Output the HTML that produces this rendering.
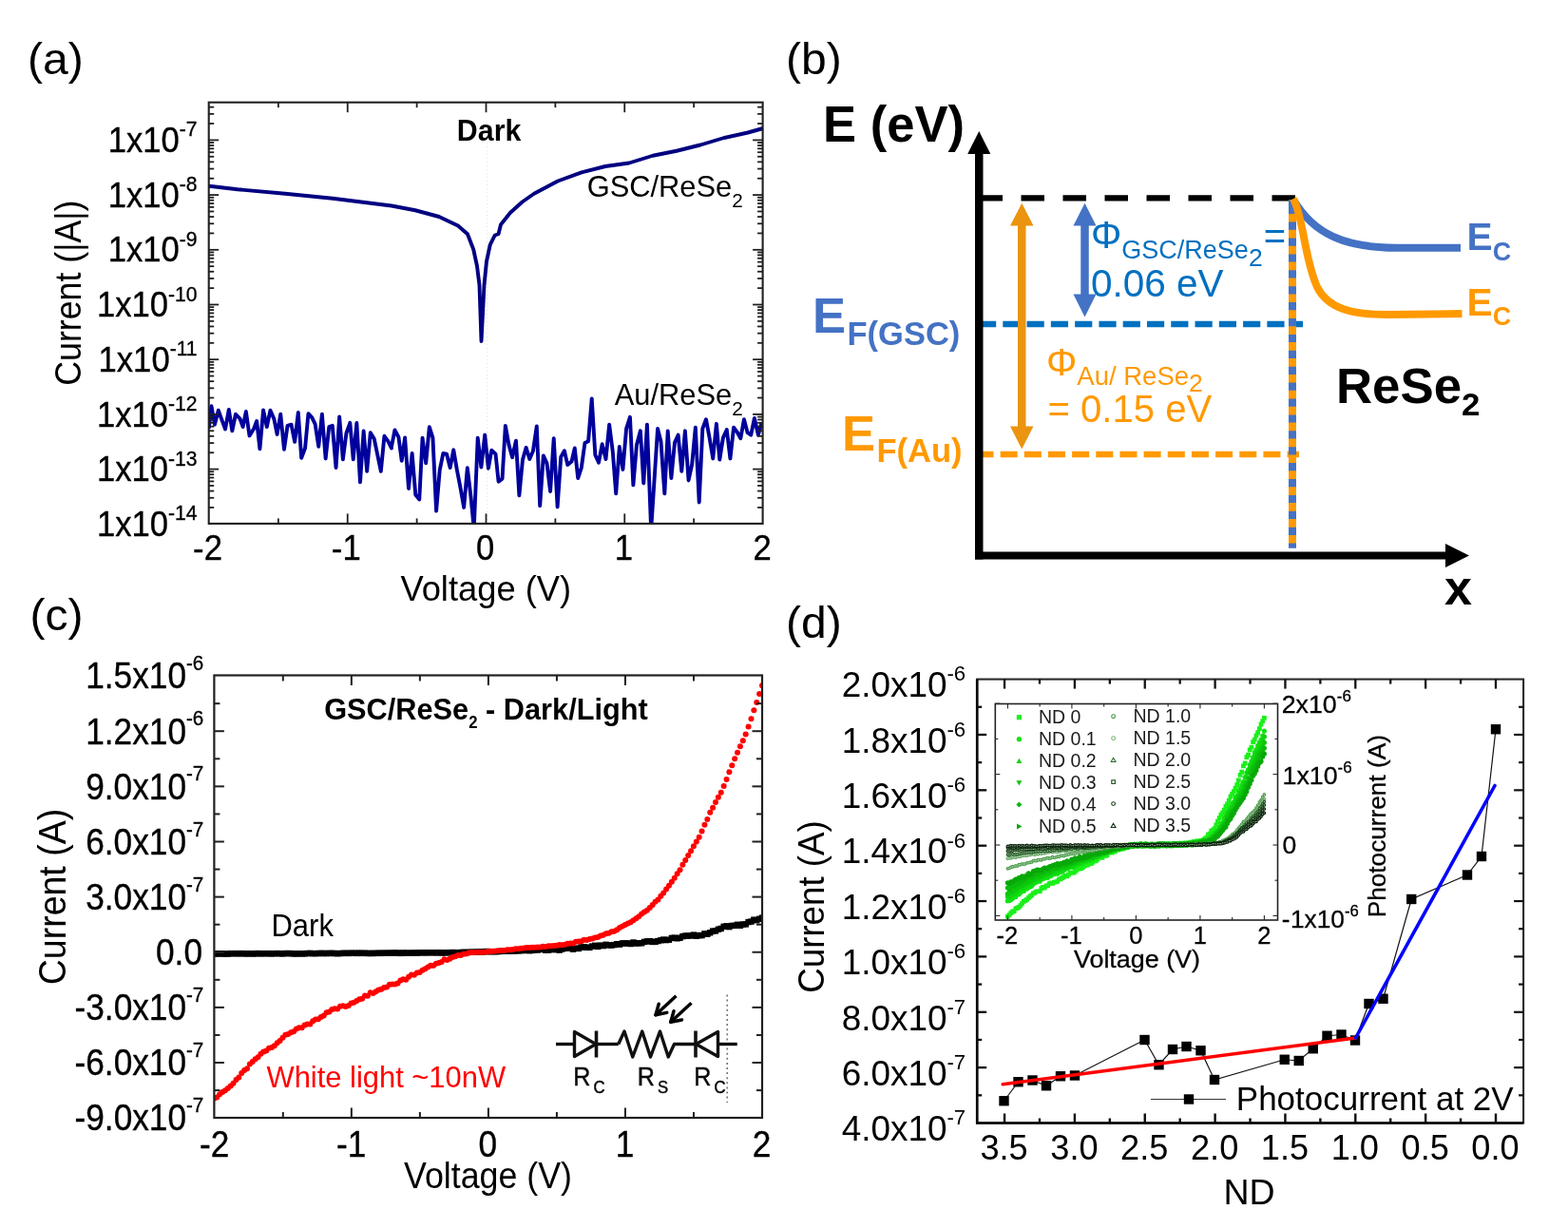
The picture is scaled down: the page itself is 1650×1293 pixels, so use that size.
<!DOCTYPE html>
<html lang="en"><head><meta charset="utf-8"><title>GSC/ReSe2 photodetector figure</title>
<style>html,body{margin:0;padding:0;background:#fff;}body{width:1650px;height:1293px;}svg{display:block;}text{font-family:"Liberation Sans",sans-serif;}</style>
</head><body>
<svg width="1650" height="1293" viewBox="0 0 1650 1293" role="img" aria-label="Four-panel figure: dark I-V curves, band diagram, dark/light I-V, photocurrent versus ND">
<rect x="0" y="0" width="1650" height="1293" fill="#ffffff"/>
<text transform="translate(29 77.5) scale(1.045 1)" font-size="46" text-anchor="start" fill="#000" font-weight="normal" >(a)</text>
<text transform="translate(827 77.5) scale(1.045 1)" font-size="46" text-anchor="start" fill="#000" font-weight="normal" >(b)</text>
<text transform="translate(31.5 663) scale(1.045 1)" font-size="46" text-anchor="start" fill="#000" font-weight="normal" >(c)</text>
<text transform="translate(827 671) scale(1.045 1)" font-size="46" text-anchor="start" fill="#000" font-weight="normal" >(d)</text>
<g id="panel-a">
<line x1="512.8" y1="150" x2="512.8" y2="550.9" stroke="#e2e2e2" stroke-width="1" stroke-dasharray="1 3"/>
<polyline points="220,195.75 250,199.25 300,203.75 350,208.75 400,215 412,216.5 437,221.25 462,228 482,237.5 492,246.25 498.25,262.5 502,280 504.5,300 506.5,359 509.5,300 512,275 515.75,257.5 520.75,247.5 524.5,246.25 527,236.25 537,223.75 549.5,212.5 562,203.75 587,190.5 612,181.3 637,175 662,171.5 687,163.75 712,158.75 737,152.5 762,145 787,139.5 803,135" stroke="#000080" stroke-width="3.9" fill="none" stroke-linejoin="round" stroke-linecap="butt"/>
<clipPath id="clipA"><rect x="219.7" y="107.7" width="582.9" height="443.2"/></clipPath>
<g clip-path="url(#clipA)">
<polyline points="219.7,450.91 222.52,427.27 225.91,446.67 229.79,431.76 233.18,441.21 237.06,451.52 240.82,430.91 244.33,453.33 247.97,435.76 252.58,440.61 255.61,449.09 258.88,432.97 262.52,458.42 267.12,450.91 270.15,443.03 273.42,472.36 277.06,431.52 280.82,449.09 284.45,431.76 288.33,440.61 291.61,456.97 295.24,435.76 299,472.73 302.52,447.88 306.52,446.67 310.15,464.85 313.79,433.94 317.18,481.82 321.06,471.52 324.45,435.15 328.33,439.39 331.61,446.06 335.24,469.7 338.88,435.76 342.64,482.42 346.27,449.09 349.79,447.88 353.55,492.12 357.18,438.55 360.82,483.39 364.45,455.76 368.33,444.85 371.73,483.39 375.36,444.85 379,507.27 382.64,453.33 386.15,495.76 389.79,455.15 393.79,461.82 400.82,495.76 404.45,458.79 408.33,464.24 411.97,471.52 411.82,470.91 415.45,452.36 419.45,460 422.73,484.85 426.12,460.36 430,513.94 433.64,476.97 437.27,520.61 441.27,525.45 444.55,460.61 448.18,487.27 451.82,449.09 455.45,460.61 459.09,537.58 462.73,494.55 466.36,476.97 470,477.58 473.64,492.12 477.27,473.33 480.91,494.55 484.55,513.33 488.18,533.94 491.82,492.12 495.45,522.42 498.73,556.36 502.73,460.61 506.36,491.52 510.24,457.58 513.88,492.73 517.27,473.7 521.52,477.58 524.55,506.67 528.55,503.64 531.82,447.88 535.45,467.88 539.09,481.21 542.97,463.64 546.36,521.21 550,483.64 553.64,470.91 557.27,483.03 560.91,474.55 564.79,448.48 568.18,532.12 571.82,479.39 575.45,487.27 579.09,516.97 582.73,461.21 586.61,533.33 590.24,480.61 593.88,474.18 597.27,489.09 601.52,485.45 604.79,471.52 608.18,503.03 611.82,492.12 615.45,466.06 619.09,464.24 622.73,419.39 626.36,478.79 630,486.67 633.64,467.27 637.52,483.03 641.15,446.67 644.79,475.15 648.18,519.39 651.82,470.06 655.45,493.94 659.09,450.91 662.97,438.79 666.36,510.3 670,467.88 673.88,453.33 677.27,508.48 680.91,446.67 685.15,557.58 692.06,450.91 695.45,464.24 699.33,519.39 702.73,453.33 706.36,503.03 710,465.45 713.64,457.58 717.27,495.76 720.91,453.33 724.55,505.45 728.18,488.48 731.82,449.7 735.7,528.48 739.33,450.91 742.97,441.21 746.61,460.61 750.24,482.42 753.88,445.82 757.27,483.64 760.91,460.61 764.79,452.12 768.42,482.42 772.06,449.7 775.7,454.55 779.33,461.21 782.97,441.21 786.61,455.15 790.24,457.58 793.88,440 797.88,457.58 801.52,444.85" stroke="#00009c" stroke-width="3.9" fill="none" stroke-linejoin="round"/>
</g>
<rect x="219.7" y="107.7" width="582.9" height="443.2" fill="none" stroke="#202020" stroke-width="2.1"/>
<line x1="219.7" y1="533.93" x2="225.2" y2="533.93" stroke="#202020" stroke-width="1.8" />
<line x1="802.6" y1="533.93" x2="797.1" y2="533.93" stroke="#202020" stroke-width="1.8" />
<line x1="219.7" y1="523.77" x2="225.2" y2="523.77" stroke="#202020" stroke-width="1.8" />
<line x1="802.6" y1="523.77" x2="797.1" y2="523.77" stroke="#202020" stroke-width="1.8" />
<line x1="219.7" y1="516.56" x2="225.2" y2="516.56" stroke="#202020" stroke-width="1.8" />
<line x1="802.6" y1="516.56" x2="797.1" y2="516.56" stroke="#202020" stroke-width="1.8" />
<line x1="219.7" y1="510.97" x2="225.2" y2="510.97" stroke="#202020" stroke-width="1.8" />
<line x1="802.6" y1="510.97" x2="797.1" y2="510.97" stroke="#202020" stroke-width="1.8" />
<line x1="219.7" y1="506.4" x2="225.2" y2="506.4" stroke="#202020" stroke-width="1.8" />
<line x1="802.6" y1="506.4" x2="797.1" y2="506.4" stroke="#202020" stroke-width="1.8" />
<line x1="219.7" y1="502.54" x2="225.2" y2="502.54" stroke="#202020" stroke-width="1.8" />
<line x1="802.6" y1="502.54" x2="797.1" y2="502.54" stroke="#202020" stroke-width="1.8" />
<line x1="219.7" y1="499.19" x2="225.2" y2="499.19" stroke="#202020" stroke-width="1.8" />
<line x1="802.6" y1="499.19" x2="797.1" y2="499.19" stroke="#202020" stroke-width="1.8" />
<line x1="219.7" y1="496.24" x2="225.2" y2="496.24" stroke="#202020" stroke-width="1.8" />
<line x1="802.6" y1="496.24" x2="797.1" y2="496.24" stroke="#202020" stroke-width="1.8" />
<line x1="219.7" y1="493.6" x2="230.2" y2="493.6" stroke="#202020" stroke-width="1.8" />
<line x1="802.6" y1="493.6" x2="792.1" y2="493.6" stroke="#202020" stroke-width="1.8" />
<line x1="219.7" y1="476.23" x2="225.2" y2="476.23" stroke="#202020" stroke-width="1.8" />
<line x1="802.6" y1="476.23" x2="797.1" y2="476.23" stroke="#202020" stroke-width="1.8" />
<line x1="219.7" y1="466.07" x2="225.2" y2="466.07" stroke="#202020" stroke-width="1.8" />
<line x1="802.6" y1="466.07" x2="797.1" y2="466.07" stroke="#202020" stroke-width="1.8" />
<line x1="219.7" y1="458.86" x2="225.2" y2="458.86" stroke="#202020" stroke-width="1.8" />
<line x1="802.6" y1="458.86" x2="797.1" y2="458.86" stroke="#202020" stroke-width="1.8" />
<line x1="219.7" y1="453.27" x2="225.2" y2="453.27" stroke="#202020" stroke-width="1.8" />
<line x1="802.6" y1="453.27" x2="797.1" y2="453.27" stroke="#202020" stroke-width="1.8" />
<line x1="219.7" y1="448.7" x2="225.2" y2="448.7" stroke="#202020" stroke-width="1.8" />
<line x1="802.6" y1="448.7" x2="797.1" y2="448.7" stroke="#202020" stroke-width="1.8" />
<line x1="219.7" y1="444.84" x2="225.2" y2="444.84" stroke="#202020" stroke-width="1.8" />
<line x1="802.6" y1="444.84" x2="797.1" y2="444.84" stroke="#202020" stroke-width="1.8" />
<line x1="219.7" y1="441.49" x2="225.2" y2="441.49" stroke="#202020" stroke-width="1.8" />
<line x1="802.6" y1="441.49" x2="797.1" y2="441.49" stroke="#202020" stroke-width="1.8" />
<line x1="219.7" y1="438.54" x2="225.2" y2="438.54" stroke="#202020" stroke-width="1.8" />
<line x1="802.6" y1="438.54" x2="797.1" y2="438.54" stroke="#202020" stroke-width="1.8" />
<line x1="219.7" y1="435.9" x2="230.2" y2="435.9" stroke="#202020" stroke-width="1.8" />
<line x1="802.6" y1="435.9" x2="792.1" y2="435.9" stroke="#202020" stroke-width="1.8" />
<line x1="219.7" y1="418.53" x2="225.2" y2="418.53" stroke="#202020" stroke-width="1.8" />
<line x1="802.6" y1="418.53" x2="797.1" y2="418.53" stroke="#202020" stroke-width="1.8" />
<line x1="219.7" y1="408.37" x2="225.2" y2="408.37" stroke="#202020" stroke-width="1.8" />
<line x1="802.6" y1="408.37" x2="797.1" y2="408.37" stroke="#202020" stroke-width="1.8" />
<line x1="219.7" y1="401.16" x2="225.2" y2="401.16" stroke="#202020" stroke-width="1.8" />
<line x1="802.6" y1="401.16" x2="797.1" y2="401.16" stroke="#202020" stroke-width="1.8" />
<line x1="219.7" y1="395.57" x2="225.2" y2="395.57" stroke="#202020" stroke-width="1.8" />
<line x1="802.6" y1="395.57" x2="797.1" y2="395.57" stroke="#202020" stroke-width="1.8" />
<line x1="219.7" y1="391" x2="225.2" y2="391" stroke="#202020" stroke-width="1.8" />
<line x1="802.6" y1="391" x2="797.1" y2="391" stroke="#202020" stroke-width="1.8" />
<line x1="219.7" y1="387.14" x2="225.2" y2="387.14" stroke="#202020" stroke-width="1.8" />
<line x1="802.6" y1="387.14" x2="797.1" y2="387.14" stroke="#202020" stroke-width="1.8" />
<line x1="219.7" y1="383.79" x2="225.2" y2="383.79" stroke="#202020" stroke-width="1.8" />
<line x1="802.6" y1="383.79" x2="797.1" y2="383.79" stroke="#202020" stroke-width="1.8" />
<line x1="219.7" y1="380.84" x2="225.2" y2="380.84" stroke="#202020" stroke-width="1.8" />
<line x1="802.6" y1="380.84" x2="797.1" y2="380.84" stroke="#202020" stroke-width="1.8" />
<line x1="219.7" y1="378.2" x2="230.2" y2="378.2" stroke="#202020" stroke-width="1.8" />
<line x1="802.6" y1="378.2" x2="792.1" y2="378.2" stroke="#202020" stroke-width="1.8" />
<line x1="219.7" y1="360.83" x2="225.2" y2="360.83" stroke="#202020" stroke-width="1.8" />
<line x1="802.6" y1="360.83" x2="797.1" y2="360.83" stroke="#202020" stroke-width="1.8" />
<line x1="219.7" y1="350.67" x2="225.2" y2="350.67" stroke="#202020" stroke-width="1.8" />
<line x1="802.6" y1="350.67" x2="797.1" y2="350.67" stroke="#202020" stroke-width="1.8" />
<line x1="219.7" y1="343.46" x2="225.2" y2="343.46" stroke="#202020" stroke-width="1.8" />
<line x1="802.6" y1="343.46" x2="797.1" y2="343.46" stroke="#202020" stroke-width="1.8" />
<line x1="219.7" y1="337.87" x2="225.2" y2="337.87" stroke="#202020" stroke-width="1.8" />
<line x1="802.6" y1="337.87" x2="797.1" y2="337.87" stroke="#202020" stroke-width="1.8" />
<line x1="219.7" y1="333.3" x2="225.2" y2="333.3" stroke="#202020" stroke-width="1.8" />
<line x1="802.6" y1="333.3" x2="797.1" y2="333.3" stroke="#202020" stroke-width="1.8" />
<line x1="219.7" y1="329.44" x2="225.2" y2="329.44" stroke="#202020" stroke-width="1.8" />
<line x1="802.6" y1="329.44" x2="797.1" y2="329.44" stroke="#202020" stroke-width="1.8" />
<line x1="219.7" y1="326.09" x2="225.2" y2="326.09" stroke="#202020" stroke-width="1.8" />
<line x1="802.6" y1="326.09" x2="797.1" y2="326.09" stroke="#202020" stroke-width="1.8" />
<line x1="219.7" y1="323.14" x2="225.2" y2="323.14" stroke="#202020" stroke-width="1.8" />
<line x1="802.6" y1="323.14" x2="797.1" y2="323.14" stroke="#202020" stroke-width="1.8" />
<line x1="219.7" y1="320.5" x2="230.2" y2="320.5" stroke="#202020" stroke-width="1.8" />
<line x1="802.6" y1="320.5" x2="792.1" y2="320.5" stroke="#202020" stroke-width="1.8" />
<line x1="219.7" y1="303.13" x2="225.2" y2="303.13" stroke="#202020" stroke-width="1.8" />
<line x1="802.6" y1="303.13" x2="797.1" y2="303.13" stroke="#202020" stroke-width="1.8" />
<line x1="219.7" y1="292.97" x2="225.2" y2="292.97" stroke="#202020" stroke-width="1.8" />
<line x1="802.6" y1="292.97" x2="797.1" y2="292.97" stroke="#202020" stroke-width="1.8" />
<line x1="219.7" y1="285.76" x2="225.2" y2="285.76" stroke="#202020" stroke-width="1.8" />
<line x1="802.6" y1="285.76" x2="797.1" y2="285.76" stroke="#202020" stroke-width="1.8" />
<line x1="219.7" y1="280.17" x2="225.2" y2="280.17" stroke="#202020" stroke-width="1.8" />
<line x1="802.6" y1="280.17" x2="797.1" y2="280.17" stroke="#202020" stroke-width="1.8" />
<line x1="219.7" y1="275.6" x2="225.2" y2="275.6" stroke="#202020" stroke-width="1.8" />
<line x1="802.6" y1="275.6" x2="797.1" y2="275.6" stroke="#202020" stroke-width="1.8" />
<line x1="219.7" y1="271.74" x2="225.2" y2="271.74" stroke="#202020" stroke-width="1.8" />
<line x1="802.6" y1="271.74" x2="797.1" y2="271.74" stroke="#202020" stroke-width="1.8" />
<line x1="219.7" y1="268.39" x2="225.2" y2="268.39" stroke="#202020" stroke-width="1.8" />
<line x1="802.6" y1="268.39" x2="797.1" y2="268.39" stroke="#202020" stroke-width="1.8" />
<line x1="219.7" y1="265.44" x2="225.2" y2="265.44" stroke="#202020" stroke-width="1.8" />
<line x1="802.6" y1="265.44" x2="797.1" y2="265.44" stroke="#202020" stroke-width="1.8" />
<line x1="219.7" y1="262.8" x2="230.2" y2="262.8" stroke="#202020" stroke-width="1.8" />
<line x1="802.6" y1="262.8" x2="792.1" y2="262.8" stroke="#202020" stroke-width="1.8" />
<line x1="219.7" y1="245.43" x2="225.2" y2="245.43" stroke="#202020" stroke-width="1.8" />
<line x1="802.6" y1="245.43" x2="797.1" y2="245.43" stroke="#202020" stroke-width="1.8" />
<line x1="219.7" y1="235.27" x2="225.2" y2="235.27" stroke="#202020" stroke-width="1.8" />
<line x1="802.6" y1="235.27" x2="797.1" y2="235.27" stroke="#202020" stroke-width="1.8" />
<line x1="219.7" y1="228.06" x2="225.2" y2="228.06" stroke="#202020" stroke-width="1.8" />
<line x1="802.6" y1="228.06" x2="797.1" y2="228.06" stroke="#202020" stroke-width="1.8" />
<line x1="219.7" y1="222.47" x2="225.2" y2="222.47" stroke="#202020" stroke-width="1.8" />
<line x1="802.6" y1="222.47" x2="797.1" y2="222.47" stroke="#202020" stroke-width="1.8" />
<line x1="219.7" y1="217.9" x2="225.2" y2="217.9" stroke="#202020" stroke-width="1.8" />
<line x1="802.6" y1="217.9" x2="797.1" y2="217.9" stroke="#202020" stroke-width="1.8" />
<line x1="219.7" y1="214.04" x2="225.2" y2="214.04" stroke="#202020" stroke-width="1.8" />
<line x1="802.6" y1="214.04" x2="797.1" y2="214.04" stroke="#202020" stroke-width="1.8" />
<line x1="219.7" y1="210.69" x2="225.2" y2="210.69" stroke="#202020" stroke-width="1.8" />
<line x1="802.6" y1="210.69" x2="797.1" y2="210.69" stroke="#202020" stroke-width="1.8" />
<line x1="219.7" y1="207.74" x2="225.2" y2="207.74" stroke="#202020" stroke-width="1.8" />
<line x1="802.6" y1="207.74" x2="797.1" y2="207.74" stroke="#202020" stroke-width="1.8" />
<line x1="219.7" y1="205.1" x2="230.2" y2="205.1" stroke="#202020" stroke-width="1.8" />
<line x1="802.6" y1="205.1" x2="792.1" y2="205.1" stroke="#202020" stroke-width="1.8" />
<line x1="219.7" y1="187.73" x2="225.2" y2="187.73" stroke="#202020" stroke-width="1.8" />
<line x1="802.6" y1="187.73" x2="797.1" y2="187.73" stroke="#202020" stroke-width="1.8" />
<line x1="219.7" y1="177.57" x2="225.2" y2="177.57" stroke="#202020" stroke-width="1.8" />
<line x1="802.6" y1="177.57" x2="797.1" y2="177.57" stroke="#202020" stroke-width="1.8" />
<line x1="219.7" y1="170.36" x2="225.2" y2="170.36" stroke="#202020" stroke-width="1.8" />
<line x1="802.6" y1="170.36" x2="797.1" y2="170.36" stroke="#202020" stroke-width="1.8" />
<line x1="219.7" y1="164.77" x2="225.2" y2="164.77" stroke="#202020" stroke-width="1.8" />
<line x1="802.6" y1="164.77" x2="797.1" y2="164.77" stroke="#202020" stroke-width="1.8" />
<line x1="219.7" y1="160.2" x2="225.2" y2="160.2" stroke="#202020" stroke-width="1.8" />
<line x1="802.6" y1="160.2" x2="797.1" y2="160.2" stroke="#202020" stroke-width="1.8" />
<line x1="219.7" y1="156.34" x2="225.2" y2="156.34" stroke="#202020" stroke-width="1.8" />
<line x1="802.6" y1="156.34" x2="797.1" y2="156.34" stroke="#202020" stroke-width="1.8" />
<line x1="219.7" y1="152.99" x2="225.2" y2="152.99" stroke="#202020" stroke-width="1.8" />
<line x1="802.6" y1="152.99" x2="797.1" y2="152.99" stroke="#202020" stroke-width="1.8" />
<line x1="219.7" y1="150.04" x2="225.2" y2="150.04" stroke="#202020" stroke-width="1.8" />
<line x1="802.6" y1="150.04" x2="797.1" y2="150.04" stroke="#202020" stroke-width="1.8" />
<line x1="219.7" y1="147.4" x2="230.2" y2="147.4" stroke="#202020" stroke-width="1.8" />
<line x1="802.6" y1="147.4" x2="792.1" y2="147.4" stroke="#202020" stroke-width="1.8" />
<line x1="219.7" y1="130.03" x2="225.2" y2="130.03" stroke="#202020" stroke-width="1.8" />
<line x1="802.6" y1="130.03" x2="797.1" y2="130.03" stroke="#202020" stroke-width="1.8" />
<line x1="219.7" y1="119.87" x2="225.2" y2="119.87" stroke="#202020" stroke-width="1.8" />
<line x1="802.6" y1="119.87" x2="797.1" y2="119.87" stroke="#202020" stroke-width="1.8" />
<line x1="219.7" y1="112.66" x2="225.2" y2="112.66" stroke="#202020" stroke-width="1.8" />
<line x1="802.6" y1="112.66" x2="797.1" y2="112.66" stroke="#202020" stroke-width="1.8" />
<line x1="292.88" y1="550.9" x2="292.88" y2="545.4" stroke="#202020" stroke-width="1.8" />
<line x1="292.88" y1="107.7" x2="292.88" y2="113.2" stroke="#202020" stroke-width="1.8" />
<line x1="365.75" y1="550.9" x2="365.75" y2="540.4" stroke="#202020" stroke-width="1.8" />
<line x1="365.75" y1="107.7" x2="365.75" y2="118.2" stroke="#202020" stroke-width="1.8" />
<line x1="438.62" y1="550.9" x2="438.62" y2="545.4" stroke="#202020" stroke-width="1.8" />
<line x1="438.62" y1="107.7" x2="438.62" y2="113.2" stroke="#202020" stroke-width="1.8" />
<line x1="511.5" y1="550.9" x2="511.5" y2="540.4" stroke="#202020" stroke-width="1.8" />
<line x1="511.5" y1="107.7" x2="511.5" y2="118.2" stroke="#202020" stroke-width="1.8" />
<line x1="584.38" y1="550.9" x2="584.38" y2="545.4" stroke="#202020" stroke-width="1.8" />
<line x1="584.38" y1="107.7" x2="584.38" y2="113.2" stroke="#202020" stroke-width="1.8" />
<line x1="657.25" y1="550.9" x2="657.25" y2="540.4" stroke="#202020" stroke-width="1.8" />
<line x1="657.25" y1="107.7" x2="657.25" y2="118.2" stroke="#202020" stroke-width="1.8" />
<line x1="730.12" y1="550.9" x2="730.12" y2="545.4" stroke="#202020" stroke-width="1.8" />
<line x1="730.12" y1="107.7" x2="730.12" y2="113.2" stroke="#202020" stroke-width="1.8" />
<text transform="translate(207.6 563.9) scale(0.96 1)" font-size="36.1" text-anchor="end" fill="#000" font-weight="normal" stroke="#000" stroke-width="0.35">1x10<tspan font-size="22" dy="-16.6">-14</tspan></text>
<text transform="translate(207.6 506.2) scale(0.96 1)" font-size="36.1" text-anchor="end" fill="#000" font-weight="normal" stroke="#000" stroke-width="0.35">1x10<tspan font-size="22" dy="-16.6">-13</tspan></text>
<text transform="translate(207.6 448.5) scale(0.96 1)" font-size="36.1" text-anchor="end" fill="#000" font-weight="normal" stroke="#000" stroke-width="0.35">1x10<tspan font-size="22" dy="-16.6">-12</tspan></text>
<text transform="translate(207.6 390.8) scale(0.96 1)" font-size="36.1" text-anchor="end" fill="#000" font-weight="normal" stroke="#000" stroke-width="0.35">1x10<tspan font-size="22" dy="-16.6">-11</tspan></text>
<text transform="translate(207.6 333.1) scale(0.96 1)" font-size="36.1" text-anchor="end" fill="#000" font-weight="normal" stroke="#000" stroke-width="0.35">1x10<tspan font-size="22" dy="-16.6">-10</tspan></text>
<text transform="translate(207.6 275.4) scale(0.96 1)" font-size="36.1" text-anchor="end" fill="#000" font-weight="normal" stroke="#000" stroke-width="0.35">1x10<tspan font-size="22" dy="-16.6">-9</tspan></text>
<text transform="translate(207.6 217.7) scale(0.96 1)" font-size="36.1" text-anchor="end" fill="#000" font-weight="normal" stroke="#000" stroke-width="0.35">1x10<tspan font-size="22" dy="-16.6">-8</tspan></text>
<text transform="translate(207.6 160) scale(0.96 1)" font-size="36.1" text-anchor="end" fill="#000" font-weight="normal" stroke="#000" stroke-width="0.35">1x10<tspan font-size="22" dy="-16.6">-7</tspan></text>
<text transform="translate(218.5 588.5) scale(0.96 1)" font-size="36.1" text-anchor="middle" fill="#000" font-weight="normal" stroke="#000" stroke-width="0.35">-2</text>
<text transform="translate(364.25 588.5) scale(0.96 1)" font-size="36.1" text-anchor="middle" fill="#000" font-weight="normal" stroke="#000" stroke-width="0.35">-1</text>
<text transform="translate(510.7 588.5) scale(0.96 1)" font-size="36.1" text-anchor="middle" fill="#000" font-weight="normal" stroke="#000" stroke-width="0.35">0</text>
<text transform="translate(656.45 588.5) scale(0.96 1)" font-size="36.1" text-anchor="middle" fill="#000" font-weight="normal" stroke="#000" stroke-width="0.35">1</text>
<text transform="translate(802.2 588.5) scale(0.96 1)" font-size="36.1" text-anchor="middle" fill="#000" font-weight="normal" stroke="#000" stroke-width="0.35">2</text>
<text transform="translate(511.3 631.5) scale(0.985 1)" font-size="36.9" text-anchor="middle" fill="#000" font-weight="normal" >Voltage (V)</text>
<text transform="translate(85 405.8) rotate(-90) scale(0.943 1)" font-size="37.9" text-anchor="start" fill="#000" font-weight="normal" >Current (|A|)</text>
<text transform="translate(514.6 148.1) scale(0.995 1)" font-size="30.5" text-anchor="middle" fill="#000" font-weight="bold" >Dark</text>
<text transform="translate(781.8 207.3) scale(1.012 1)" font-size="30.5" text-anchor="end" fill="#000" font-weight="normal" >GSC/ReSe<tspan font-size="20.5" dy="11">2</tspan></text>
<text transform="translate(781.8 425.8) scale(1.012 1)" font-size="30.5" text-anchor="end" fill="#000" font-weight="normal" >Au/ReSe<tspan font-size="20.5" dy="11">2</tspan></text>
</g>
<g id="panel-b">
<line x1="1030.5" y1="208.3" x2="1363.5" y2="208.3" stroke="#000" stroke-width="6.2" stroke-dasharray="24.5 19.5"/>
<line x1="1030" y1="341" x2="1371" y2="341" stroke="#0070c0" stroke-width="6.5" stroke-dasharray="18.2 7.08"/>
<line x1="1027.5" y1="478" x2="1367" y2="478" stroke="#ff9900" stroke-width="6.5" stroke-dasharray="18 7.16"/>
<line x1="1360" y1="210" x2="1360" y2="576.75" stroke="#4472c4" stroke-width="8" />
<line x1="1360" y1="224.9" x2="1360" y2="576.75" stroke="#ff9900" stroke-width="8" stroke-dasharray="8.7 8.2"/>
<path d="M1361,210 C1382,246 1415,260.8 1470,260.8 L1537,260.8" fill="none" stroke="#4472c4" stroke-width="8"/>
<path d="M1361,209 C1372,230 1372,270 1386,302 C1398,326 1425,331 1460,331 L1538.5,330" fill="none" stroke="#ff9900" stroke-width="8"/>
<line x1="1030.25" y1="160" x2="1030.25" y2="588.5" stroke="#000" stroke-width="8.5" />
<line x1="1026" y1="584.5" x2="1523" y2="584.5" stroke="#000" stroke-width="8" />
<polygon points="1030.25,138 1018.2,162 1042.3,162" fill="#000"/>
<polygon points="1546,584.5 1521,572 1521,597" fill="#000"/>
<line x1="1075.25" y1="236" x2="1075.25" y2="450" stroke="#ea9410" stroke-width="8.5" />
<polygon points="1075.25,213.7 1063,237.5 1087.5,237.5" fill="#ea9410"/>
<polygon points="1075.25,472.5 1063,448.5 1087.5,448.5" fill="#ea9410"/>
<line x1="1141.5" y1="236" x2="1141.5" y2="311" stroke="#4472c4" stroke-width="8.5" />
<polygon points="1141.5,213.7 1129.5,237.5 1153.5,237.5" fill="#4472c4"/>
<polygon points="1141.5,333.5 1129.5,309.5 1153.5,309.5" fill="#4472c4"/>
<text transform="translate(866 149.2) scale(0.977 1)" font-size="53.8" text-anchor="start" fill="#000" font-weight="bold" >E (eV)</text>
<text transform="translate(855 350)" font-size="52.5" text-anchor="start" fill="#4472c4" font-weight="bold" >E<tspan font-size="34.5" dy="13" dx="1.5">F(GSC)</tspan></text>
<text transform="translate(886 473.75)" font-size="52.5" text-anchor="start" fill="#ff9900" font-weight="bold" >E<tspan font-size="34.5" dy="12.5" dx="1.5">F(Au)</tspan></text>
<text transform="translate(1148 261)" font-size="40.5" text-anchor="start" fill="#0070c0" font-weight="normal" >&#934;<tspan font-size="27" dy="11">GSC/ReSe</tspan><tspan font-size="26.5" dy="7.5">2</tspan><tspan font-size="40" dy="-17.5" dx="1">=</tspan></text>
<text transform="translate(1148 312)" font-size="40.5" text-anchor="start" fill="#0070c0" font-weight="normal" >0.06 eV</text>
<text transform="translate(1101 394.5)" font-size="40.5" text-anchor="start" fill="#ff9900" font-weight="normal" >&#934;<tspan font-size="27.5" dy="10">Au/ ReSe</tspan><tspan font-size="26.5" dy="7">2</tspan></text>
<text transform="translate(1102.5 443.5) scale(0.99 1)" font-size="40.5" text-anchor="start" fill="#ff9900" font-weight="normal" >= 0.15 eV</text>
<text transform="translate(1543.5 263) scale(0.978 1)" font-size="41.5" text-anchor="start" fill="#4472c4" font-weight="bold" >E<tspan font-size="27.5" dy="10.5" dx="0.3">C</tspan></text>
<text transform="translate(1543.5 331.5) scale(0.978 1)" font-size="41.5" text-anchor="start" fill="#ff9900" font-weight="bold" >E<tspan font-size="27.5" dy="10.5" dx="0.3">C</tspan></text>
<text transform="translate(1406 424.25) scale(1.025 1)" font-size="51.5" text-anchor="start" fill="#000" font-weight="bold" >ReSe<tspan font-size="34" dy="12.5">2</tspan></text>
<text transform="translate(1520 635.5)" font-size="52" text-anchor="start" fill="#000" font-weight="bold" >x</text>
</g>
<g id="panel-c">
<clipPath id="clipC"><rect x="225.4" y="710.5" width="576.6" height="465.5"/></clipPath>
<g clip-path="url(#clipC)">
<g fill="#000">
<rect x="222.2" y="1000.23" width="6.4" height="6.4"/>
<rect x="225.08" y="1000.3" width="6.4" height="6.4"/>
<rect x="227.97" y="1000.08" width="6.4" height="6.4"/>
<rect x="230.85" y="1000.19" width="6.4" height="6.4"/>
<rect x="233.73" y="1000.37" width="6.4" height="6.4"/>
<rect x="236.62" y="1000.37" width="6.4" height="6.4"/>
<rect x="239.5" y="999.97" width="6.4" height="6.4"/>
<rect x="242.38" y="1000.01" width="6.4" height="6.4"/>
<rect x="245.26" y="999.92" width="6.4" height="6.4"/>
<rect x="248.15" y="1000.11" width="6.4" height="6.4"/>
<rect x="251.03" y="999.9" width="6.4" height="6.4"/>
<rect x="253.91" y="1000.1" width="6.4" height="6.4"/>
<rect x="256.8" y="1000.19" width="6.4" height="6.4"/>
<rect x="259.68" y="1000" width="6.4" height="6.4"/>
<rect x="262.56" y="1000.19" width="6.4" height="6.4"/>
<rect x="265.44" y="1000.14" width="6.4" height="6.4"/>
<rect x="268.33" y="999.85" width="6.4" height="6.4"/>
<rect x="271.21" y="1000.11" width="6.4" height="6.4"/>
<rect x="274.09" y="999.95" width="6.4" height="6.4"/>
<rect x="276.98" y="1000.02" width="6.4" height="6.4"/>
<rect x="279.86" y="999.94" width="6.4" height="6.4"/>
<rect x="282.74" y="1000.14" width="6.4" height="6.4"/>
<rect x="285.63" y="1000.01" width="6.4" height="6.4"/>
<rect x="288.51" y="999.85" width="6.4" height="6.4"/>
<rect x="291.39" y="1000.04" width="6.4" height="6.4"/>
<rect x="294.28" y="1000.15" width="6.4" height="6.4"/>
<rect x="297.16" y="999.9" width="6.4" height="6.4"/>
<rect x="300.04" y="999.85" width="6.4" height="6.4"/>
<rect x="302.92" y="999.92" width="6.4" height="6.4"/>
<rect x="305.81" y="1000.19" width="6.4" height="6.4"/>
<rect x="308.69" y="1000.2" width="6.4" height="6.4"/>
<rect x="311.57" y="1000.04" width="6.4" height="6.4"/>
<rect x="314.46" y="1000.14" width="6.4" height="6.4"/>
<rect x="317.34" y="1000.11" width="6.4" height="6.4"/>
<rect x="320.22" y="999.86" width="6.4" height="6.4"/>
<rect x="323.11" y="999.71" width="6.4" height="6.4"/>
<rect x="325.99" y="999.98" width="6.4" height="6.4"/>
<rect x="328.87" y="999.92" width="6.4" height="6.4"/>
<rect x="331.75" y="999.82" width="6.4" height="6.4"/>
<rect x="334.64" y="999.74" width="6.4" height="6.4"/>
<rect x="337.52" y="999.82" width="6.4" height="6.4"/>
<rect x="340.4" y="999.84" width="6.4" height="6.4"/>
<rect x="343.29" y="999.73" width="6.4" height="6.4"/>
<rect x="346.17" y="999.73" width="6.4" height="6.4"/>
<rect x="349.05" y="999.8" width="6.4" height="6.4"/>
<rect x="351.94" y="999.99" width="6.4" height="6.4"/>
<rect x="354.82" y="999.84" width="6.4" height="6.4"/>
<rect x="357.7" y="999.68" width="6.4" height="6.4"/>
<rect x="360.58" y="999.66" width="6.4" height="6.4"/>
<rect x="363.47" y="999.74" width="6.4" height="6.4"/>
<rect x="366.35" y="999.6" width="6.4" height="6.4"/>
<rect x="369.23" y="999.59" width="6.4" height="6.4"/>
<rect x="372.12" y="999.73" width="6.4" height="6.4"/>
<rect x="375" y="999.5" width="6.4" height="6.4"/>
<rect x="377.88" y="999.69" width="6.4" height="6.4"/>
<rect x="380.77" y="999.61" width="6.4" height="6.4"/>
<rect x="383.65" y="999.77" width="6.4" height="6.4"/>
<rect x="386.53" y="999.78" width="6.4" height="6.4"/>
<rect x="389.41" y="999.74" width="6.4" height="6.4"/>
<rect x="392.3" y="999.72" width="6.4" height="6.4"/>
<rect x="395.18" y="999.55" width="6.4" height="6.4"/>
<rect x="398.06" y="999.68" width="6.4" height="6.4"/>
<rect x="400.95" y="999.5" width="6.4" height="6.4"/>
<rect x="403.83" y="999.6" width="6.4" height="6.4"/>
<rect x="406.71" y="999.46" width="6.4" height="6.4"/>
<rect x="409.6" y="999.5" width="6.4" height="6.4"/>
<rect x="412.48" y="999.29" width="6.4" height="6.4"/>
<rect x="415.36" y="999.36" width="6.4" height="6.4"/>
<rect x="418.24" y="999.7" width="6.4" height="6.4"/>
<rect x="421.13" y="999.31" width="6.4" height="6.4"/>
<rect x="424.01" y="999.52" width="6.4" height="6.4"/>
<rect x="426.89" y="999.48" width="6.4" height="6.4"/>
<rect x="429.78" y="999.49" width="6.4" height="6.4"/>
<rect x="432.66" y="999.35" width="6.4" height="6.4"/>
<rect x="435.54" y="999.38" width="6.4" height="6.4"/>
<rect x="438.43" y="999.09" width="6.4" height="6.4"/>
<rect x="441.31" y="999.07" width="6.4" height="6.4"/>
<rect x="444.19" y="999.1" width="6.4" height="6.4"/>
<rect x="447.07" y="999.05" width="6.4" height="6.4"/>
<rect x="449.96" y="999" width="6.4" height="6.4"/>
<rect x="452.84" y="998.98" width="6.4" height="6.4"/>
<rect x="455.72" y="999.16" width="6.4" height="6.4"/>
<rect x="458.61" y="998.94" width="6.4" height="6.4"/>
<rect x="461.49" y="999.29" width="6.4" height="6.4"/>
<rect x="464.37" y="999.12" width="6.4" height="6.4"/>
<rect x="467.26" y="999.01" width="6.4" height="6.4"/>
<rect x="470.14" y="999.06" width="6.4" height="6.4"/>
<rect x="473.02" y="998.79" width="6.4" height="6.4"/>
<rect x="475.9" y="999.07" width="6.4" height="6.4"/>
<rect x="478.79" y="998.97" width="6.4" height="6.4"/>
<rect x="481.67" y="998.85" width="6.4" height="6.4"/>
<rect x="484.55" y="998.66" width="6.4" height="6.4"/>
<rect x="487.44" y="998.77" width="6.4" height="6.4"/>
<rect x="490.32" y="998.65" width="6.4" height="6.4"/>
<rect x="493.2" y="998.54" width="6.4" height="6.4"/>
<rect x="496.08" y="998.59" width="6.4" height="6.4"/>
<rect x="498.97" y="998.37" width="6.4" height="6.4"/>
<rect x="501.85" y="998.15" width="6.4" height="6.4"/>
<rect x="504.73" y="998.17" width="6.4" height="6.4"/>
<rect x="507.62" y="997.91" width="6.4" height="6.4"/>
<rect x="510.5" y="997.82" width="6.4" height="6.4"/>
<rect x="513.38" y="998.01" width="6.4" height="6.4"/>
<rect x="516.27" y="997.96" width="6.4" height="6.4"/>
<rect x="519.15" y="997.97" width="6.4" height="6.4"/>
<rect x="522.03" y="997.83" width="6.4" height="6.4"/>
<rect x="524.91" y="997.6" width="6.4" height="6.4"/>
<rect x="527.8" y="997.3" width="6.4" height="6.4"/>
<rect x="530.68" y="997.42" width="6.4" height="6.4"/>
<rect x="533.56" y="997.56" width="6.4" height="6.4"/>
<rect x="536.45" y="997.41" width="6.4" height="6.4"/>
<rect x="539.33" y="997.19" width="6.4" height="6.4"/>
<rect x="542.21" y="997.09" width="6.4" height="6.4"/>
<rect x="545.1" y="996.89" width="6.4" height="6.4"/>
<rect x="547.98" y="996.79" width="6.4" height="6.4"/>
<rect x="550.86" y="996.65" width="6.4" height="6.4"/>
<rect x="553.75" y="996.97" width="6.4" height="6.4"/>
<rect x="556.63" y="996.76" width="6.4" height="6.4"/>
<rect x="559.51" y="995.95" width="6.4" height="6.4"/>
<rect x="562.39" y="996.34" width="6.4" height="6.4"/>
<rect x="565.28" y="995.58" width="6.4" height="6.4"/>
<rect x="568.16" y="995.77" width="6.4" height="6.4"/>
<rect x="571.04" y="996.6" width="6.4" height="6.4"/>
<rect x="573.93" y="996.34" width="6.4" height="6.4"/>
<rect x="576.81" y="995.91" width="6.4" height="6.4"/>
<rect x="579.69" y="995.42" width="6.4" height="6.4"/>
<rect x="582.57" y="995.97" width="6.4" height="6.4"/>
<rect x="585.46" y="996.39" width="6.4" height="6.4"/>
<rect x="588.34" y="995.31" width="6.4" height="6.4"/>
<rect x="591.22" y="994.49" width="6.4" height="6.4"/>
<rect x="594.11" y="994.29" width="6.4" height="6.4"/>
<rect x="596.99" y="994.13" width="6.4" height="6.4"/>
<rect x="599.87" y="995.47" width="6.4" height="6.4"/>
<rect x="602.76" y="994.47" width="6.4" height="6.4"/>
<rect x="605.64" y="994.74" width="6.4" height="6.4"/>
<rect x="608.52" y="993.26" width="6.4" height="6.4"/>
<rect x="611.4" y="993.13" width="6.4" height="6.4"/>
<rect x="614.29" y="993.61" width="6.4" height="6.4"/>
<rect x="617.17" y="993.68" width="6.4" height="6.4"/>
<rect x="620.05" y="992.37" width="6.4" height="6.4"/>
<rect x="622.94" y="991.57" width="6.4" height="6.4"/>
<rect x="625.82" y="992.71" width="6.4" height="6.4"/>
<rect x="628.7" y="991.39" width="6.4" height="6.4"/>
<rect x="631.59" y="991.91" width="6.4" height="6.4"/>
<rect x="634.47" y="990.59" width="6.4" height="6.4"/>
<rect x="637.35" y="991.3" width="6.4" height="6.4"/>
<rect x="640.24" y="991.32" width="6.4" height="6.4"/>
<rect x="643.12" y="990.88" width="6.4" height="6.4"/>
<rect x="646" y="989.99" width="6.4" height="6.4"/>
<rect x="648.88" y="990.43" width="6.4" height="6.4"/>
<rect x="651.77" y="989.16" width="6.4" height="6.4"/>
<rect x="654.65" y="989.25" width="6.4" height="6.4"/>
<rect x="657.53" y="989.23" width="6.4" height="6.4"/>
<rect x="660.42" y="989.83" width="6.4" height="6.4"/>
<rect x="663.3" y="988.31" width="6.4" height="6.4"/>
<rect x="666.18" y="989.39" width="6.4" height="6.4"/>
<rect x="669.06" y="989.01" width="6.4" height="6.4"/>
<rect x="671.95" y="989.08" width="6.4" height="6.4"/>
<rect x="674.83" y="987.74" width="6.4" height="6.4"/>
<rect x="677.71" y="987.18" width="6.4" height="6.4"/>
<rect x="680.6" y="986.97" width="6.4" height="6.4"/>
<rect x="683.48" y="987.73" width="6.4" height="6.4"/>
<rect x="686.36" y="987.66" width="6.4" height="6.4"/>
<rect x="689.25" y="986.84" width="6.4" height="6.4"/>
<rect x="692.13" y="986.08" width="6.4" height="6.4"/>
<rect x="695.01" y="985.33" width="6.4" height="6.4"/>
<rect x="697.89" y="985.9" width="6.4" height="6.4"/>
<rect x="700.78" y="985.54" width="6.4" height="6.4"/>
<rect x="703.66" y="983.69" width="6.4" height="6.4"/>
<rect x="706.54" y="983.45" width="6.4" height="6.4"/>
<rect x="709.43" y="984.09" width="6.4" height="6.4"/>
<rect x="712.31" y="983.54" width="6.4" height="6.4"/>
<rect x="715.19" y="981.96" width="6.4" height="6.4"/>
<rect x="718.08" y="981.34" width="6.4" height="6.4"/>
<rect x="720.96" y="981.26" width="6.4" height="6.4"/>
<rect x="723.84" y="981.29" width="6.4" height="6.4"/>
<rect x="726.72" y="980.38" width="6.4" height="6.4"/>
<rect x="729.61" y="981.61" width="6.4" height="6.4"/>
<rect x="732.49" y="980.89" width="6.4" height="6.4"/>
<rect x="735.37" y="980.9" width="6.4" height="6.4"/>
<rect x="738.26" y="979.15" width="6.4" height="6.4"/>
<rect x="741.14" y="979.5" width="6.4" height="6.4"/>
<rect x="744.02" y="978.11" width="6.4" height="6.4"/>
<rect x="746.91" y="976.35" width="6.4" height="6.4"/>
<rect x="749.79" y="976.21" width="6.4" height="6.4"/>
<rect x="752.67" y="974.53" width="6.4" height="6.4"/>
<rect x="755.55" y="973.75" width="6.4" height="6.4"/>
<rect x="758.44" y="971.63" width="6.4" height="6.4"/>
<rect x="761.32" y="971.13" width="6.4" height="6.4"/>
<rect x="764.2" y="971.93" width="6.4" height="6.4"/>
<rect x="767.09" y="970.72" width="6.4" height="6.4"/>
<rect x="769.97" y="970.64" width="6.4" height="6.4"/>
<rect x="772.85" y="969.56" width="6.4" height="6.4"/>
<rect x="775.74" y="970.61" width="6.4" height="6.4"/>
<rect x="778.62" y="969.26" width="6.4" height="6.4"/>
<rect x="781.5" y="969.22" width="6.4" height="6.4"/>
<rect x="784.38" y="966.87" width="6.4" height="6.4"/>
<rect x="787.27" y="966.39" width="6.4" height="6.4"/>
<rect x="790.15" y="964.46" width="6.4" height="6.4"/>
<rect x="793.03" y="965.03" width="6.4" height="6.4"/>
<rect x="795.92" y="963.6" width="6.4" height="6.4"/>
<rect x="798.8" y="962.42" width="6.4" height="6.4"/>
</g>
<g fill="#ff0000">
<circle cx="225.4" cy="1155.44" r="3"/>
<circle cx="228.28" cy="1154.57" r="3"/>
<circle cx="231.17" cy="1151.15" r="3"/>
<circle cx="234.05" cy="1149.1" r="3"/>
<circle cx="236.93" cy="1147.3" r="3"/>
<circle cx="239.81" cy="1144.9" r="3"/>
<circle cx="242.7" cy="1142.42" r="3"/>
<circle cx="245.58" cy="1139.66" r="3"/>
<circle cx="248.46" cy="1136.04" r="3"/>
<circle cx="251.35" cy="1133.59" r="3"/>
<circle cx="254.23" cy="1128.99" r="3"/>
<circle cx="257.11" cy="1125.9" r="3"/>
<circle cx="260" cy="1124.22" r="3"/>
<circle cx="262.88" cy="1119.61" r="3"/>
<circle cx="265.76" cy="1116.97" r="3"/>
<circle cx="268.64" cy="1114.32" r="3"/>
<circle cx="271.53" cy="1112.36" r="3"/>
<circle cx="274.41" cy="1108.66" r="3"/>
<circle cx="277.29" cy="1106.43" r="3"/>
<circle cx="280.18" cy="1105.47" r="3"/>
<circle cx="283.06" cy="1102.73" r="3"/>
<circle cx="285.94" cy="1102.09" r="3"/>
<circle cx="288.83" cy="1100.27" r="3"/>
<circle cx="291.71" cy="1097.32" r="3"/>
<circle cx="294.59" cy="1095.09" r="3"/>
<circle cx="297.48" cy="1091.86" r="3"/>
<circle cx="300.36" cy="1088.84" r="3"/>
<circle cx="303.24" cy="1088.03" r="3"/>
<circle cx="306.12" cy="1086.17" r="3"/>
<circle cx="309.01" cy="1085.18" r="3"/>
<circle cx="311.89" cy="1082.43" r="3"/>
<circle cx="314.77" cy="1081.16" r="3"/>
<circle cx="317.66" cy="1081.25" r="3"/>
<circle cx="320.54" cy="1078.43" r="3"/>
<circle cx="323.42" cy="1077.43" r="3"/>
<circle cx="326.31" cy="1077.42" r="3"/>
<circle cx="329.19" cy="1074.27" r="3"/>
<circle cx="332.07" cy="1072.41" r="3"/>
<circle cx="334.95" cy="1072.21" r="3"/>
<circle cx="337.84" cy="1070.1" r="3"/>
<circle cx="340.72" cy="1068.42" r="3"/>
<circle cx="343.6" cy="1065.18" r="3"/>
<circle cx="346.49" cy="1064.5" r="3"/>
<circle cx="349.37" cy="1061.96" r="3"/>
<circle cx="352.25" cy="1061.33" r="3"/>
<circle cx="355.13" cy="1061.41" r="3"/>
<circle cx="358.02" cy="1058.71" r="3"/>
<circle cx="360.9" cy="1058.32" r="3"/>
<circle cx="363.78" cy="1059.11" r="3"/>
<circle cx="366.67" cy="1057.98" r="3"/>
<circle cx="369.55" cy="1055.49" r="3"/>
<circle cx="372.43" cy="1054.8" r="3"/>
<circle cx="375.32" cy="1053.09" r="3"/>
<circle cx="378.2" cy="1051.15" r="3"/>
<circle cx="381.08" cy="1050.66" r="3"/>
<circle cx="383.97" cy="1047.39" r="3"/>
<circle cx="386.85" cy="1047.67" r="3"/>
<circle cx="389.73" cy="1044.27" r="3"/>
<circle cx="392.61" cy="1045.08" r="3"/>
<circle cx="395.5" cy="1043.27" r="3"/>
<circle cx="398.38" cy="1041.38" r="3"/>
<circle cx="401.26" cy="1040.7" r="3"/>
<circle cx="404.15" cy="1038.91" r="3"/>
<circle cx="407.03" cy="1038.53" r="3"/>
<circle cx="409.91" cy="1035.65" r="3"/>
<circle cx="412.8" cy="1035.57" r="3"/>
<circle cx="415.68" cy="1035.42" r="3"/>
<circle cx="418.56" cy="1034.45" r="3"/>
<circle cx="421.44" cy="1031.45" r="3"/>
<circle cx="424.33" cy="1030.3" r="3"/>
<circle cx="427.21" cy="1030.67" r="3"/>
<circle cx="430.09" cy="1027.81" r="3"/>
<circle cx="432.98" cy="1025.6" r="3"/>
<circle cx="435.86" cy="1025.83" r="3"/>
<circle cx="438.74" cy="1023.55" r="3"/>
<circle cx="441.62" cy="1022.9" r="3"/>
<circle cx="444.51" cy="1020.77" r="3"/>
<circle cx="447.39" cy="1019.32" r="3"/>
<circle cx="450.27" cy="1017.57" r="3"/>
<circle cx="453.16" cy="1015.72" r="3"/>
<circle cx="456.04" cy="1015.84" r="3"/>
<circle cx="458.92" cy="1013.87" r="3"/>
<circle cx="461.81" cy="1012.94" r="3"/>
<circle cx="464.69" cy="1012.05" r="3"/>
<circle cx="467.57" cy="1009.25" r="3"/>
<circle cx="470.46" cy="1009.92" r="3"/>
<circle cx="473.34" cy="1008.78" r="3"/>
<circle cx="476.22" cy="1006.94" r="3"/>
<circle cx="479.1" cy="1006.28" r="3"/>
<circle cx="481.99" cy="1004.99" r="3"/>
<circle cx="484.87" cy="1004.94" r="3"/>
<circle cx="487.75" cy="1003.7" r="3"/>
<circle cx="490.64" cy="1003.46" r="3"/>
<circle cx="493.52" cy="1002.53" r="3"/>
<circle cx="496.4" cy="1002.03" r="3"/>
<circle cx="499.28" cy="1002.23" r="3"/>
<circle cx="502.17" cy="1001.83" r="3"/>
<circle cx="505.05" cy="1001.79" r="3"/>
<circle cx="507.93" cy="1001.7" r="3"/>
<circle cx="510.82" cy="1001.71" r="3"/>
<circle cx="513.7" cy="1000.63" r="3"/>
<circle cx="516.58" cy="1000.99" r="3"/>
<circle cx="519.47" cy="1000.72" r="3"/>
<circle cx="522.35" cy="1000.56" r="3"/>
<circle cx="525.23" cy="1000.21" r="3"/>
<circle cx="528.12" cy="999.98" r="3"/>
<circle cx="531" cy="1000.04" r="3"/>
<circle cx="533.88" cy="999.37" r="3"/>
<circle cx="536.76" cy="999.19" r="3"/>
<circle cx="539.65" cy="999.08" r="3"/>
<circle cx="542.53" cy="998.22" r="3"/>
<circle cx="545.41" cy="998.29" r="3"/>
<circle cx="548.3" cy="997.69" r="3"/>
<circle cx="551.18" cy="997.45" r="3"/>
<circle cx="554.06" cy="997.04" r="3"/>
<circle cx="556.95" cy="996.97" r="3"/>
<circle cx="559.83" cy="996.7" r="3"/>
<circle cx="562.71" cy="996.73" r="3"/>
<circle cx="565.59" cy="996.5" r="3"/>
<circle cx="568.48" cy="996.48" r="3"/>
<circle cx="571.36" cy="995.87" r="3"/>
<circle cx="574.24" cy="996.02" r="3"/>
<circle cx="577.13" cy="995.27" r="3"/>
<circle cx="580.01" cy="995.36" r="3"/>
<circle cx="582.89" cy="994.89" r="3"/>
<circle cx="585.77" cy="994.66" r="3"/>
<circle cx="588.66" cy="993.99" r="3"/>
<circle cx="591.54" cy="994.3" r="3"/>
<circle cx="594.42" cy="993.72" r="3"/>
<circle cx="597.31" cy="992.64" r="3"/>
<circle cx="600.19" cy="992.51" r="3"/>
<circle cx="603.07" cy="992.41" r="3"/>
<circle cx="605.96" cy="990.86" r="3"/>
<circle cx="608.84" cy="990.48" r="3"/>
<circle cx="611.72" cy="990.25" r="3"/>
<circle cx="614.61" cy="988.87" r="3"/>
<circle cx="617.49" cy="988.89" r="3"/>
<circle cx="620.37" cy="987.99" r="3"/>
<circle cx="623.25" cy="987.38" r="3"/>
<circle cx="626.14" cy="986.4" r="3"/>
<circle cx="629.02" cy="985.94" r="3"/>
<circle cx="631.9" cy="984.45" r="3"/>
<circle cx="634.79" cy="983.73" r="3"/>
<circle cx="637.67" cy="982.2" r="3"/>
<circle cx="640.55" cy="981.64" r="3"/>
<circle cx="643.44" cy="980.37" r="3"/>
<circle cx="646.32" cy="979.69" r="3"/>
<circle cx="649.2" cy="978.33" r="3"/>
<circle cx="652.08" cy="976.12" r="3"/>
<circle cx="654.97" cy="974.53" r="3"/>
<circle cx="657.85" cy="973.03" r="3"/>
<circle cx="660.73" cy="971.46" r="3"/>
<circle cx="663.62" cy="970.26" r="3"/>
<circle cx="666.5" cy="968.26" r="3"/>
<circle cx="669.38" cy="966.29" r="3"/>
<circle cx="672.26" cy="964.14" r="3"/>
<circle cx="675.15" cy="961.47" r="3"/>
<circle cx="678.03" cy="959.51" r="3"/>
<circle cx="680.91" cy="957.66" r="3"/>
<circle cx="683.8" cy="954.9" r="3"/>
<circle cx="686.68" cy="951.95" r="3"/>
<circle cx="689.56" cy="948.74" r="3"/>
<circle cx="692.45" cy="946.42" r="3"/>
<circle cx="695.33" cy="942.67" r="3"/>
<circle cx="698.21" cy="939.42" r="3"/>
<circle cx="701.1" cy="935.38" r="3"/>
<circle cx="703.98" cy="931.71" r="3"/>
<circle cx="706.86" cy="927.79" r="3"/>
<circle cx="709.74" cy="923.77" r="3"/>
<circle cx="712.63" cy="919.19" r="3"/>
<circle cx="715.51" cy="915.2" r="3"/>
<circle cx="718.39" cy="909.72" r="3"/>
<circle cx="721.28" cy="905.04" r="3"/>
<circle cx="724.16" cy="900.05" r="3"/>
<circle cx="727.04" cy="895.37" r="3"/>
<circle cx="729.92" cy="890.29" r="3"/>
<circle cx="732.81" cy="885.47" r="3"/>
<circle cx="735.69" cy="880.74" r="3"/>
<circle cx="738.57" cy="874.51" r="3"/>
<circle cx="741.46" cy="867.8" r="3"/>
<circle cx="744.34" cy="861.9" r="3"/>
<circle cx="747.22" cy="854.63" r="3"/>
<circle cx="750.11" cy="849.77" r="3"/>
<circle cx="752.99" cy="843.89" r="3"/>
<circle cx="755.87" cy="838.76" r="3"/>
<circle cx="758.75" cy="833.79" r="3"/>
<circle cx="761.64" cy="826.93" r="3"/>
<circle cx="764.52" cy="820.04" r="3"/>
<circle cx="767.4" cy="812.19" r="3"/>
<circle cx="770.29" cy="805.27" r="3"/>
<circle cx="773.17" cy="798.24" r="3"/>
<circle cx="776.05" cy="791.79" r="3"/>
<circle cx="778.94" cy="785.36" r="3"/>
<circle cx="781.82" cy="779.35" r="3"/>
<circle cx="784.7" cy="772.51" r="3"/>
<circle cx="787.58" cy="764.49" r="3"/>
<circle cx="790.47" cy="756.35" r="3"/>
<circle cx="793.35" cy="747.33" r="3"/>
<circle cx="796.23" cy="738.89" r="3"/>
<circle cx="799.12" cy="730.09" r="3"/>
<circle cx="802" cy="721.17" r="3"/>
</g>
</g>
<rect x="225.4" y="710.5" width="576.6" height="465.5" fill="none" stroke="#202020" stroke-width="2.2"/>
<line x1="225.4" y1="740.17" x2="231.4" y2="740.17" stroke="#202020" stroke-width="2" />
<line x1="802" y1="740.17" x2="796" y2="740.17" stroke="#202020" stroke-width="2" />
<line x1="225.4" y1="769.23" x2="235.9" y2="769.23" stroke="#202020" stroke-width="2" />
<line x1="802" y1="769.23" x2="791.5" y2="769.23" stroke="#202020" stroke-width="2" />
<line x1="225.4" y1="798.3" x2="231.4" y2="798.3" stroke="#202020" stroke-width="2" />
<line x1="802" y1="798.3" x2="796" y2="798.3" stroke="#202020" stroke-width="2" />
<line x1="225.4" y1="827.36" x2="235.9" y2="827.36" stroke="#202020" stroke-width="2" />
<line x1="802" y1="827.36" x2="791.5" y2="827.36" stroke="#202020" stroke-width="2" />
<line x1="225.4" y1="856.43" x2="231.4" y2="856.43" stroke="#202020" stroke-width="2" />
<line x1="802" y1="856.43" x2="796" y2="856.43" stroke="#202020" stroke-width="2" />
<line x1="225.4" y1="885.49" x2="235.9" y2="885.49" stroke="#202020" stroke-width="2" />
<line x1="802" y1="885.49" x2="791.5" y2="885.49" stroke="#202020" stroke-width="2" />
<line x1="225.4" y1="914.56" x2="231.4" y2="914.56" stroke="#202020" stroke-width="2" />
<line x1="802" y1="914.56" x2="796" y2="914.56" stroke="#202020" stroke-width="2" />
<line x1="225.4" y1="943.62" x2="235.9" y2="943.62" stroke="#202020" stroke-width="2" />
<line x1="802" y1="943.62" x2="791.5" y2="943.62" stroke="#202020" stroke-width="2" />
<line x1="225.4" y1="972.69" x2="231.4" y2="972.69" stroke="#202020" stroke-width="2" />
<line x1="802" y1="972.69" x2="796" y2="972.69" stroke="#202020" stroke-width="2" />
<line x1="225.4" y1="1001.75" x2="235.9" y2="1001.75" stroke="#202020" stroke-width="2" />
<line x1="802" y1="1001.75" x2="791.5" y2="1001.75" stroke="#202020" stroke-width="2" />
<line x1="225.4" y1="1030.82" x2="231.4" y2="1030.82" stroke="#202020" stroke-width="2" />
<line x1="802" y1="1030.82" x2="796" y2="1030.82" stroke="#202020" stroke-width="2" />
<line x1="225.4" y1="1059.88" x2="235.9" y2="1059.88" stroke="#202020" stroke-width="2" />
<line x1="802" y1="1059.88" x2="791.5" y2="1059.88" stroke="#202020" stroke-width="2" />
<line x1="225.4" y1="1088.95" x2="231.4" y2="1088.95" stroke="#202020" stroke-width="2" />
<line x1="802" y1="1088.95" x2="796" y2="1088.95" stroke="#202020" stroke-width="2" />
<line x1="225.4" y1="1118.01" x2="235.9" y2="1118.01" stroke="#202020" stroke-width="2" />
<line x1="802" y1="1118.01" x2="791.5" y2="1118.01" stroke="#202020" stroke-width="2" />
<line x1="225.4" y1="1147.08" x2="231.4" y2="1147.08" stroke="#202020" stroke-width="2" />
<line x1="802" y1="1147.08" x2="796" y2="1147.08" stroke="#202020" stroke-width="2" />
<line x1="297.81" y1="1176" x2="297.81" y2="1170" stroke="#202020" stroke-width="2" />
<line x1="297.81" y1="710.5" x2="297.81" y2="716.5" stroke="#202020" stroke-width="2" />
<line x1="369.84" y1="1176" x2="369.84" y2="1165.5" stroke="#202020" stroke-width="2" />
<line x1="369.84" y1="710.5" x2="369.84" y2="721" stroke="#202020" stroke-width="2" />
<line x1="441.87" y1="1176" x2="441.87" y2="1170" stroke="#202020" stroke-width="2" />
<line x1="441.87" y1="710.5" x2="441.87" y2="716.5" stroke="#202020" stroke-width="2" />
<line x1="513.9" y1="1176" x2="513.9" y2="1165.5" stroke="#202020" stroke-width="2" />
<line x1="513.9" y1="710.5" x2="513.9" y2="721" stroke="#202020" stroke-width="2" />
<line x1="585.93" y1="1176" x2="585.93" y2="1170" stroke="#202020" stroke-width="2" />
<line x1="585.93" y1="710.5" x2="585.93" y2="716.5" stroke="#202020" stroke-width="2" />
<line x1="657.96" y1="1176" x2="657.96" y2="1165.5" stroke="#202020" stroke-width="2" />
<line x1="657.96" y1="710.5" x2="657.96" y2="721" stroke="#202020" stroke-width="2" />
<line x1="729.99" y1="1176" x2="729.99" y2="1170" stroke="#202020" stroke-width="2" />
<line x1="729.99" y1="710.5" x2="729.99" y2="716.5" stroke="#202020" stroke-width="2" />
<text transform="translate(214.3 724.4) scale(0.915 1)" font-size="38.5" text-anchor="end" fill="#000" font-weight="normal" stroke="#000" stroke-width="0.35">1.5x10<tspan font-size="22.5" dy="-19.3">-6</tspan></text>
<text transform="translate(214.3 782.53) scale(0.915 1)" font-size="38.5" text-anchor="end" fill="#000" font-weight="normal" stroke="#000" stroke-width="0.35">1.2x10<tspan font-size="22.5" dy="-19.3">-6</tspan></text>
<text transform="translate(214.3 840.66) scale(0.915 1)" font-size="38.5" text-anchor="end" fill="#000" font-weight="normal" stroke="#000" stroke-width="0.35">9.0x10<tspan font-size="22.5" dy="-19.3">-7</tspan></text>
<text transform="translate(214.3 898.79) scale(0.915 1)" font-size="38.5" text-anchor="end" fill="#000" font-weight="normal" stroke="#000" stroke-width="0.35">6.0x10<tspan font-size="22.5" dy="-19.3">-7</tspan></text>
<text transform="translate(214.3 956.92) scale(0.915 1)" font-size="38.5" text-anchor="end" fill="#000" font-weight="normal" stroke="#000" stroke-width="0.35">3.0x10<tspan font-size="22.5" dy="-19.3">-7</tspan></text>
<text transform="translate(213 1015.05) scale(0.915 1)" font-size="38.5" text-anchor="end" fill="#000" font-weight="normal" stroke="#000" stroke-width="0.35">0.0</text>
<text transform="translate(214.3 1073.18) scale(0.915 1)" font-size="38.5" text-anchor="end" fill="#000" font-weight="normal" stroke="#000" stroke-width="0.35">-3.0x10<tspan font-size="22.5" dy="-19.3">-7</tspan></text>
<text transform="translate(214.3 1131.31) scale(0.915 1)" font-size="38.5" text-anchor="end" fill="#000" font-weight="normal" stroke="#000" stroke-width="0.35">-6.0x10<tspan font-size="22.5" dy="-19.3">-7</tspan></text>
<text transform="translate(214.3 1189.44) scale(0.915 1)" font-size="38.5" text-anchor="end" fill="#000" font-weight="normal" stroke="#000" stroke-width="0.35">-9.0x10<tspan font-size="22.5" dy="-19.3">-7</tspan></text>
<text transform="translate(225.58 1216.5) scale(0.915 1)" font-size="38.5" text-anchor="middle" fill="#000" font-weight="normal" stroke="#000" stroke-width="0.35">-2</text>
<text transform="translate(369.64 1216.5) scale(0.915 1)" font-size="38.5" text-anchor="middle" fill="#000" font-weight="normal" stroke="#000" stroke-width="0.35">-1</text>
<text transform="translate(513.4 1216.5) scale(0.915 1)" font-size="38.5" text-anchor="middle" fill="#000" font-weight="normal" stroke="#000" stroke-width="0.35">0</text>
<text transform="translate(657.46 1216.5) scale(0.915 1)" font-size="38.5" text-anchor="middle" fill="#000" font-weight="normal" stroke="#000" stroke-width="0.35">1</text>
<text transform="translate(801.52 1216.5) scale(0.915 1)" font-size="38.5" text-anchor="middle" fill="#000" font-weight="normal" stroke="#000" stroke-width="0.35">2</text>
<text transform="translate(513.5 1250.4) scale(0.93 1)" font-size="38.5" text-anchor="middle" fill="#000" font-weight="normal" >Voltage (V)</text>
<text transform="translate(68.5 1036.2) rotate(-90) scale(0.93 1)" font-size="40.3" text-anchor="start" fill="#000" font-weight="normal" >Current (A)</text>
<text transform="translate(511.5 756.5) scale(0.955 1)" font-size="32.2" text-anchor="middle" fill="#000" font-weight="bold" >GSC/ReSe<tspan font-size="17.5" dy="9">2</tspan><tspan dy="-9" font-size="32.2"> - Dark/Light</tspan></text>
<text transform="translate(285.5 985) scale(0.925 1)" font-size="33.5" text-anchor="start" fill="#000" font-weight="normal" >Dark</text>
<text transform="translate(280.5 1143.9) scale(0.96 1)" font-size="32.2" text-anchor="start" fill="#ff0000" font-weight="normal" >White light ~10nW</text>
<line x1="765.25" y1="1046.5" x2="765.25" y2="1160" stroke="#777" stroke-width="1.7" stroke-dasharray="2 3.1"/>
<line x1="585" y1="1098.5" x2="604.5" y2="1098.5" stroke="#111" stroke-width="3.4" />
<polygon points="604.5,1085.5 604.5,1111.5 627,1098.5" fill="none" stroke="#111" stroke-width="3.4" stroke-linejoin="round"/>
<line x1="627.5" y1="1084.5" x2="627.5" y2="1112.5" stroke="#111" stroke-width="3.6" />
<line x1="627.5" y1="1098.5" x2="650.75" y2="1098.5" stroke="#111" stroke-width="3.4" />
<polyline points="650.75,1098.5 657,1085 665.75,1112 675.75,1085 684.5,1112 694.5,1085 703.25,1112 709.5,1098.5 732,1098.5" stroke="#111" stroke-width="3.4" fill="none" stroke-linejoin="round"/>
<line x1="732" y1="1084.5" x2="732" y2="1112.5" stroke="#111" stroke-width="3.6" />
<polygon points="755.5,1085.5 755.5,1111.5 732.5,1098.5" fill="none" stroke="#111" stroke-width="3.4" stroke-linejoin="round"/>
<line x1="755.5" y1="1098.5" x2="775.75" y2="1098.5" stroke="#111" stroke-width="3.4" />
<line x1="711.5" y1="1047.75" x2="690" y2="1067.75" stroke="#000" stroke-width="3.5" />
<line x1="690" y1="1067.75" x2="701.76" y2="1065.37" stroke="#000" stroke-width="3.5" stroke-linecap="round"/>
<line x1="690" y1="1067.75" x2="693.22" y2="1056.19" stroke="#000" stroke-width="3.5" stroke-linecap="round"/>
<line x1="727.5" y1="1055.25" x2="705.75" y2="1075.25" stroke="#000" stroke-width="3.5" />
<line x1="705.75" y1="1075.25" x2="717.53" y2="1072.94" stroke="#000" stroke-width="3.5" stroke-linecap="round"/>
<line x1="705.75" y1="1075.25" x2="709.03" y2="1063.71" stroke="#000" stroke-width="3.5" stroke-linecap="round"/>
<text transform="translate(603.3 1141.5) scale(0.93 1)" font-size="27" text-anchor="start" fill="#0a0a0a" font-weight="normal" stroke="#0a0a0a" stroke-width="0.45">R<tspan font-size="18" dy="8.5" dx="3.4">C</tspan></text>
<text transform="translate(670.8 1141.5) scale(0.93 1)" font-size="27" text-anchor="start" fill="#0a0a0a" font-weight="normal" stroke="#0a0a0a" stroke-width="0.45">R<tspan font-size="18" dy="8.5" dx="3.4">S</tspan></text>
<text transform="translate(730.3 1141.5) scale(0.93 1)" font-size="27" text-anchor="start" fill="#0a0a0a" font-weight="normal" stroke="#0a0a0a" stroke-width="0.45">R<tspan font-size="18" dy="8.5" dx="3.4">C</tspan></text>
</g>
<g id="panel-d">
<polyline points="1056.5,1158.25 1071.5,1138.25 1086.5,1136.5 1101,1142.25 1116,1132.25 1131,1131.5 1204.5,1094 1219.5,1120.25 1234,1104 1248.5,1101 1263.5,1105.25 1278,1136 1351.75,1114.75 1366.75,1116 1381.75,1103.25 1396.5,1089.75 1411.5,1088.5 1426,1094.5 1440.5,1056 1455.5,1050.75 1485.25,946 1544,920.5 1559,901 1574,767.25" stroke="#111" stroke-width="1.2" fill="none"/>
<rect x="1051.3" y="1153.05" width="10.4" height="10.4" fill="#000"/>
<rect x="1066.3" y="1133.05" width="10.4" height="10.4" fill="#000"/>
<rect x="1081.3" y="1131.3" width="10.4" height="10.4" fill="#000"/>
<rect x="1095.8" y="1137.05" width="10.4" height="10.4" fill="#000"/>
<rect x="1110.8" y="1127.05" width="10.4" height="10.4" fill="#000"/>
<rect x="1125.8" y="1126.3" width="10.4" height="10.4" fill="#000"/>
<rect x="1199.3" y="1088.8" width="10.4" height="10.4" fill="#000"/>
<rect x="1214.3" y="1115.05" width="10.4" height="10.4" fill="#000"/>
<rect x="1228.8" y="1098.8" width="10.4" height="10.4" fill="#000"/>
<rect x="1243.3" y="1095.8" width="10.4" height="10.4" fill="#000"/>
<rect x="1258.3" y="1100.05" width="10.4" height="10.4" fill="#000"/>
<rect x="1272.8" y="1130.8" width="10.4" height="10.4" fill="#000"/>
<rect x="1346.55" y="1109.55" width="10.4" height="10.4" fill="#000"/>
<rect x="1361.55" y="1110.8" width="10.4" height="10.4" fill="#000"/>
<rect x="1376.55" y="1098.05" width="10.4" height="10.4" fill="#000"/>
<rect x="1391.3" y="1084.55" width="10.4" height="10.4" fill="#000"/>
<rect x="1406.3" y="1083.3" width="10.4" height="10.4" fill="#000"/>
<rect x="1420.8" y="1089.3" width="10.4" height="10.4" fill="#000"/>
<rect x="1435.3" y="1050.8" width="10.4" height="10.4" fill="#000"/>
<rect x="1450.3" y="1045.55" width="10.4" height="10.4" fill="#000"/>
<rect x="1480.05" y="940.8" width="10.4" height="10.4" fill="#000"/>
<rect x="1538.8" y="915.3" width="10.4" height="10.4" fill="#000"/>
<rect x="1553.8" y="895.8" width="10.4" height="10.4" fill="#000"/>
<rect x="1568.8" y="762.05" width="10.4" height="10.4" fill="#000"/>
<line x1="1055.25" y1="1140.75" x2="1426.5" y2="1092" stroke="#ff0000" stroke-width="3.6" stroke-linecap="round"/>
<line x1="1426.5" y1="1092" x2="1573" y2="826.5" stroke="#0000ff" stroke-width="3.6" stroke-linecap="round"/>
<rect x="1028.2" y="714.6" width="574.9" height="466.9" fill="none" stroke="#2a2a2a" stroke-width="2.1"/>
<path d="M1028.2,714.6 V1181.5 H1603.1" fill="none" stroke="#0a0a0a" stroke-width="2.6" stroke-linejoin="miter"/>
<line x1="1028.2" y1="743.78" x2="1033.2" y2="743.78" stroke="#0a0a0a" stroke-width="2.3" />
<line x1="1603.1" y1="743.78" x2="1598.1" y2="743.78" stroke="#111" stroke-width="2.2" />
<line x1="1028.2" y1="772.96" x2="1038.2" y2="772.96" stroke="#0a0a0a" stroke-width="2.3" />
<line x1="1603.1" y1="772.96" x2="1593.1" y2="772.96" stroke="#111" stroke-width="2.2" />
<line x1="1028.2" y1="802.14" x2="1033.2" y2="802.14" stroke="#0a0a0a" stroke-width="2.3" />
<line x1="1603.1" y1="802.14" x2="1598.1" y2="802.14" stroke="#111" stroke-width="2.2" />
<line x1="1028.2" y1="831.33" x2="1038.2" y2="831.33" stroke="#0a0a0a" stroke-width="2.3" />
<line x1="1603.1" y1="831.33" x2="1593.1" y2="831.33" stroke="#111" stroke-width="2.2" />
<line x1="1028.2" y1="860.51" x2="1033.2" y2="860.51" stroke="#0a0a0a" stroke-width="2.3" />
<line x1="1603.1" y1="860.51" x2="1598.1" y2="860.51" stroke="#111" stroke-width="2.2" />
<line x1="1028.2" y1="889.69" x2="1038.2" y2="889.69" stroke="#0a0a0a" stroke-width="2.3" />
<line x1="1603.1" y1="889.69" x2="1593.1" y2="889.69" stroke="#111" stroke-width="2.2" />
<line x1="1028.2" y1="918.87" x2="1033.2" y2="918.87" stroke="#0a0a0a" stroke-width="2.3" />
<line x1="1603.1" y1="918.87" x2="1598.1" y2="918.87" stroke="#111" stroke-width="2.2" />
<line x1="1028.2" y1="948.05" x2="1038.2" y2="948.05" stroke="#0a0a0a" stroke-width="2.3" />
<line x1="1603.1" y1="948.05" x2="1593.1" y2="948.05" stroke="#111" stroke-width="2.2" />
<line x1="1028.2" y1="977.23" x2="1033.2" y2="977.23" stroke="#0a0a0a" stroke-width="2.3" />
<line x1="1603.1" y1="977.23" x2="1598.1" y2="977.23" stroke="#111" stroke-width="2.2" />
<line x1="1028.2" y1="1006.41" x2="1038.2" y2="1006.41" stroke="#0a0a0a" stroke-width="2.3" />
<line x1="1603.1" y1="1006.41" x2="1593.1" y2="1006.41" stroke="#111" stroke-width="2.2" />
<line x1="1028.2" y1="1035.59" x2="1033.2" y2="1035.59" stroke="#0a0a0a" stroke-width="2.3" />
<line x1="1603.1" y1="1035.59" x2="1598.1" y2="1035.59" stroke="#111" stroke-width="2.2" />
<line x1="1028.2" y1="1064.78" x2="1038.2" y2="1064.78" stroke="#0a0a0a" stroke-width="2.3" />
<line x1="1603.1" y1="1064.78" x2="1593.1" y2="1064.78" stroke="#111" stroke-width="2.2" />
<line x1="1028.2" y1="1093.96" x2="1033.2" y2="1093.96" stroke="#0a0a0a" stroke-width="2.3" />
<line x1="1603.1" y1="1093.96" x2="1598.1" y2="1093.96" stroke="#111" stroke-width="2.2" />
<line x1="1028.2" y1="1123.14" x2="1038.2" y2="1123.14" stroke="#0a0a0a" stroke-width="2.3" />
<line x1="1603.1" y1="1123.14" x2="1593.1" y2="1123.14" stroke="#111" stroke-width="2.2" />
<line x1="1028.2" y1="1152.32" x2="1033.2" y2="1152.32" stroke="#0a0a0a" stroke-width="2.3" />
<line x1="1603.1" y1="1152.32" x2="1598.1" y2="1152.32" stroke="#111" stroke-width="2.2" />
<line x1="1057.05" y1="1181.5" x2="1057.05" y2="1171.5" stroke="#0a0a0a" stroke-width="2.4" />
<line x1="1057.05" y1="714.6" x2="1057.05" y2="724.6" stroke="#111" stroke-width="2.3" />
<line x1="1093.97" y1="1181.5" x2="1093.97" y2="1176.5" stroke="#0a0a0a" stroke-width="2.4" />
<line x1="1093.97" y1="714.6" x2="1093.97" y2="719.6" stroke="#111" stroke-width="2.3" />
<line x1="1130.9" y1="1181.5" x2="1130.9" y2="1171.5" stroke="#0a0a0a" stroke-width="2.4" />
<line x1="1130.9" y1="714.6" x2="1130.9" y2="724.6" stroke="#111" stroke-width="2.3" />
<line x1="1167.83" y1="1181.5" x2="1167.83" y2="1176.5" stroke="#0a0a0a" stroke-width="2.4" />
<line x1="1167.83" y1="714.6" x2="1167.83" y2="719.6" stroke="#111" stroke-width="2.3" />
<line x1="1204.75" y1="1181.5" x2="1204.75" y2="1171.5" stroke="#0a0a0a" stroke-width="2.4" />
<line x1="1204.75" y1="714.6" x2="1204.75" y2="724.6" stroke="#111" stroke-width="2.3" />
<line x1="1241.67" y1="1181.5" x2="1241.67" y2="1176.5" stroke="#0a0a0a" stroke-width="2.4" />
<line x1="1241.67" y1="714.6" x2="1241.67" y2="719.6" stroke="#111" stroke-width="2.3" />
<line x1="1278.6" y1="1181.5" x2="1278.6" y2="1171.5" stroke="#0a0a0a" stroke-width="2.4" />
<line x1="1278.6" y1="714.6" x2="1278.6" y2="724.6" stroke="#111" stroke-width="2.3" />
<line x1="1315.53" y1="1181.5" x2="1315.53" y2="1176.5" stroke="#0a0a0a" stroke-width="2.4" />
<line x1="1315.53" y1="714.6" x2="1315.53" y2="719.6" stroke="#111" stroke-width="2.3" />
<line x1="1352.45" y1="1181.5" x2="1352.45" y2="1171.5" stroke="#0a0a0a" stroke-width="2.4" />
<line x1="1352.45" y1="714.6" x2="1352.45" y2="724.6" stroke="#111" stroke-width="2.3" />
<line x1="1389.38" y1="1181.5" x2="1389.38" y2="1176.5" stroke="#0a0a0a" stroke-width="2.4" />
<line x1="1389.38" y1="714.6" x2="1389.38" y2="719.6" stroke="#111" stroke-width="2.3" />
<line x1="1426.3" y1="1181.5" x2="1426.3" y2="1171.5" stroke="#0a0a0a" stroke-width="2.4" />
<line x1="1426.3" y1="714.6" x2="1426.3" y2="724.6" stroke="#111" stroke-width="2.3" />
<line x1="1463.22" y1="1181.5" x2="1463.22" y2="1176.5" stroke="#0a0a0a" stroke-width="2.4" />
<line x1="1463.22" y1="714.6" x2="1463.22" y2="719.6" stroke="#111" stroke-width="2.3" />
<line x1="1500.15" y1="1181.5" x2="1500.15" y2="1171.5" stroke="#0a0a0a" stroke-width="2.4" />
<line x1="1500.15" y1="714.6" x2="1500.15" y2="724.6" stroke="#111" stroke-width="2.3" />
<line x1="1537.08" y1="1181.5" x2="1537.08" y2="1176.5" stroke="#0a0a0a" stroke-width="2.4" />
<line x1="1537.08" y1="714.6" x2="1537.08" y2="719.6" stroke="#111" stroke-width="2.3" />
<line x1="1574" y1="1181.5" x2="1574" y2="1171.5" stroke="#0a0a0a" stroke-width="2.4" />
<line x1="1574" y1="714.6" x2="1574" y2="724.6" stroke="#111" stroke-width="2.3" />
<text transform="translate(1016.2 733.4) scale(0.985 1)" font-size="37.5" text-anchor="end" fill="#000" font-weight="normal" >2.0x10<tspan font-size="22.5" dy="-17">-6</tspan></text>
<text transform="translate(1016.2 791.76) scale(0.985 1)" font-size="37.5" text-anchor="end" fill="#000" font-weight="normal" >1.8x10<tspan font-size="22.5" dy="-17">-6</tspan></text>
<text transform="translate(1016.2 850.12) scale(0.985 1)" font-size="37.5" text-anchor="end" fill="#000" font-weight="normal" >1.6x10<tspan font-size="22.5" dy="-17">-6</tspan></text>
<text transform="translate(1016.2 908.49) scale(0.985 1)" font-size="37.5" text-anchor="end" fill="#000" font-weight="normal" >1.4x10<tspan font-size="22.5" dy="-17">-6</tspan></text>
<text transform="translate(1016.2 966.85) scale(0.985 1)" font-size="37.5" text-anchor="end" fill="#000" font-weight="normal" >1.2x10<tspan font-size="22.5" dy="-17">-6</tspan></text>
<text transform="translate(1016.2 1025.21) scale(0.985 1)" font-size="37.5" text-anchor="end" fill="#000" font-weight="normal" >1.0x10<tspan font-size="22.5" dy="-17">-6</tspan></text>
<text transform="translate(1016.2 1083.58) scale(0.985 1)" font-size="37.5" text-anchor="end" fill="#000" font-weight="normal" >8.0x10<tspan font-size="22.5" dy="-17">-7</tspan></text>
<text transform="translate(1016.2 1141.94) scale(0.985 1)" font-size="37.5" text-anchor="end" fill="#000" font-weight="normal" >6.0x10<tspan font-size="22.5" dy="-17">-7</tspan></text>
<text transform="translate(1016.2 1200.3) scale(0.985 1)" font-size="37.5" text-anchor="end" fill="#000" font-weight="normal" >4.0x10<tspan font-size="22.5" dy="-17">-7</tspan></text>
<text transform="translate(1056.55 1219.6) scale(0.965 1)" font-size="37.5" text-anchor="middle" fill="#000" font-weight="normal" >3.5</text>
<text transform="translate(1130.4 1219.6) scale(0.965 1)" font-size="37.5" text-anchor="middle" fill="#000" font-weight="normal" >3.0</text>
<text transform="translate(1204.25 1219.6) scale(0.965 1)" font-size="37.5" text-anchor="middle" fill="#000" font-weight="normal" >2.5</text>
<text transform="translate(1278.1 1219.6) scale(0.965 1)" font-size="37.5" text-anchor="middle" fill="#000" font-weight="normal" >2.0</text>
<text transform="translate(1351.95 1219.6) scale(0.965 1)" font-size="37.5" text-anchor="middle" fill="#000" font-weight="normal" >1.5</text>
<text transform="translate(1425.8 1219.6) scale(0.965 1)" font-size="37.5" text-anchor="middle" fill="#000" font-weight="normal" >1.0</text>
<text transform="translate(1499.65 1219.6) scale(0.965 1)" font-size="37.5" text-anchor="middle" fill="#000" font-weight="normal" >0.5</text>
<text transform="translate(1573.5 1219.6) scale(0.965 1)" font-size="37.5" text-anchor="middle" fill="#000" font-weight="normal" >0.0</text>
<text transform="translate(1314.5 1267)" font-size="37.5" text-anchor="middle" fill="#000" font-weight="normal" >ND</text>
<text transform="translate(867.3 1044.8) rotate(-90) scale(0.942 1)" font-size="39" text-anchor="start" fill="#000" font-weight="normal" >Current (A)</text>
<line x1="1211" y1="1156.5" x2="1290" y2="1156.5" stroke="#2a2a2a" stroke-width="0.95" />
<rect x="1245.8" y="1151.3" width="10.4" height="10.4" fill="#000"/>
<text transform="translate(1300.8 1167.6)" font-size="35" text-anchor="start" fill="#000" font-weight="normal" >Photocurrent at 2V</text>
<clipPath id="clipI"><rect x="1047.3" y="740.5" width="297.2" height="227.5"/></clipPath>
<g clip-path="url(#clipI)" fill="none">
<path d="M1060.4,964.24h0M1062.09,962.67h0M1063.78,960.53h0M1065.46,959.14h0M1067.15,958.56h0M1068.84,955.93h0M1070.53,955.25h0M1072.21,954.31h0M1073.9,952.68h0M1075.59,950.4h0M1077.28,948.44h0M1078.96,947.71h0M1080.65,946.44h0M1082.34,944.72h0M1084.03,942.98h0M1085.71,941.97h0M1087.4,939.95h0M1089.09,939.27h0M1090.78,937.85h0M1092.46,937.93h0M1094.15,937.53h0M1095.84,934.74h0M1097.52,933.44h0M1099.21,934.02h0M1100.9,932.21h0M1102.59,931.59h0M1104.27,929.68h0M1105.96,929.01h0M1107.65,929.25h0M1109.34,928.17h0M1111.02,927.85h0M1112.71,927.24h0M1114.4,925.06h0M1116.09,924.77h0M1117.77,923.49h0M1119.46,922.7h0M1121.15,921.52h0M1122.84,921.86h0M1124.52,920.14h0M1126.21,918.15h0M1127.9,918.46h0M1129.59,918.12h0M1131.27,917.05h0M1132.96,915.39h0M1134.65,913.3h0M1136.34,914.16h0M1138.02,913.59h0M1139.71,912.36h0M1141.4,910.92h0M1143.09,910.06h0M1144.77,910.11h0M1146.46,907.93h0M1148.15,908.6h0M1149.84,907.09h0M1151.52,905.22h0M1153.21,905.92h0M1154.9,904.01h0M1156.59,902.44h0M1158.27,901.67h0M1159.96,902.3h0M1161.65,899.91h0M1163.34,900.39h0M1165.02,899.59h0M1166.71,897.2h0M1168.4,897.19h0M1170.09,897.22h0M1171.77,895.83h0M1173.46,895.95h0M1175.15,894.2h0M1176.84,894.1h0M1178.52,892.6h0M1180.21,893.43h0M1181.9,892.9h0M1183.59,891.8h0M1185.27,890.8h0M1186.96,890.42h0M1188.65,890.55h0M1190.34,889.15h0M1192.02,889.64h0M1193.71,888.84h0M1195.4,888.65h0M1197.09,888.61h0M1198.77,889.73h0M1200.46,888.27h0M1202.15,888.39h0M1203.84,888.22h0M1205.52,887.88h0M1207.21,888.76h0M1208.9,889.66h0M1210.59,889.77h0M1212.27,888.83h0M1213.96,888.66h0M1215.65,889.62h0M1217.34,888.85h0M1219.02,888.86h0M1220.71,889.06h0M1222.4,887.78h0M1224.09,889.42h0M1225.77,887.78h0M1227.46,888.68h0M1229.15,889.51h0M1230.84,888.64h0M1232.52,888.14h0M1234.21,888.94h0M1235.9,889.27h0M1237.59,888.58h0M1239.27,887.28h0M1240.96,889.02h0M1242.65,887.05h0M1244.34,888.39h0M1246.02,888.72h0M1247.71,886.89h0M1249.4,887.48h0M1251.09,887.63h0M1252.77,886.2h0M1254.46,886.09h0M1256.15,885.4h0M1257.84,885.28h0M1259.52,884.81h0M1261.21,884.75h0M1262.9,885.24h0M1264.59,884.48h0M1266.27,883.73h0M1267.96,882.32h0M1269.65,881.2h0M1271.34,878.15h0M1273.02,877.25h0M1274.71,874.15h0M1276.4,873.16h0M1278.09,871.6h0M1279.77,867.87h0M1281.46,864.19h0M1283.15,860.64h0M1284.84,857.38h0M1286.52,855.16h0M1288.21,852.13h0M1289.9,848.51h0M1291.59,845.91h0M1293.27,842.27h0M1294.96,838.02h0M1296.65,835.12h0M1298.34,832.58h0M1300.02,829.26h0M1301.71,825.59h0M1303.4,820.99h0M1305.09,815.46h0M1306.77,812.27h0M1308.46,805.87h0M1310.15,803.01h0M1311.84,796.68h0M1313.52,794.24h0M1315.21,788.84h0M1316.9,786.04h0M1318.59,780.69h0M1320.27,778.05h0M1321.96,773.8h0M1323.65,770.74h0M1325.34,766.54h0M1327.02,762.02h0M1328.71,758.65h0M1330.4,755.39h0" stroke="#19f019" stroke-width="4.8" stroke-linecap="square"/>
<path d="M1060.4,947.63h0M1062.09,947.44h0M1063.78,946.51h0M1065.46,945.26h0M1067.15,943.25h0M1068.84,943.4h0M1070.53,940.81h0M1072.21,940.93h0M1073.9,938.93h0M1075.59,937.05h0M1077.28,937.42h0M1078.96,934.64h0M1080.65,935.09h0M1082.34,933.57h0M1084.03,933.12h0M1085.71,931.95h0M1087.4,930.12h0M1089.09,928.62h0M1090.78,928.03h0M1092.46,926.6h0M1094.15,927.2h0M1095.84,925.14h0M1097.52,924.54h0M1099.21,923.89h0M1100.9,923.48h0M1102.59,923.34h0M1104.27,922.06h0M1105.96,921.46h0M1107.65,919.83h0M1109.34,919.67h0M1111.02,918.69h0M1112.71,919.19h0M1114.4,916.92h0M1116.09,917.54h0M1117.77,917.01h0M1119.46,915.85h0M1121.15,914.1h0M1122.84,913.8h0M1124.52,913.02h0M1126.21,912.35h0M1127.9,911.6h0M1129.59,912.43h0M1131.27,911.3h0M1132.96,910.79h0M1134.65,909.68h0M1136.34,908.17h0M1138.02,908.81h0M1139.71,907.17h0M1141.4,905.9h0M1143.09,906.5h0M1144.77,904.86h0M1146.46,905.48h0M1148.15,904.65h0M1149.84,902.95h0M1151.52,902.59h0M1153.21,902.39h0M1154.9,901.52h0M1156.59,900.45h0M1158.27,899.04h0M1159.96,898.58h0M1161.65,898.69h0M1163.34,897.48h0M1165.02,897.38h0M1166.71,896.66h0M1168.4,895.32h0M1170.09,894.16h0M1171.77,894.86h0M1173.46,893.58h0M1175.15,893.5h0M1176.84,892.02h0M1178.52,891.59h0M1180.21,891.76h0M1181.9,891.89h0M1183.59,890.28h0M1185.27,891.35h0M1186.96,891.17h0M1188.65,890.45h0M1190.34,890.32h0M1192.02,888.91h0M1193.71,888.35h0M1195.4,888.62h0M1197.09,888.18h0M1198.77,888.82h0M1200.46,889.57h0M1202.15,888.52h0M1203.84,889.77h0M1205.52,888.88h0M1207.21,888.23h0M1208.9,889.27h0M1210.59,888.81h0M1212.27,888.55h0M1213.96,888.94h0M1215.65,889.96h0M1217.34,889.41h0M1219.02,888.38h0M1220.71,889.75h0M1222.4,888.09h0M1224.09,888.56h0M1225.77,888.45h0M1227.46,889.78h0M1229.15,887.59h0M1230.84,888.98h0M1232.52,888.64h0M1234.21,887.83h0M1235.9,888.86h0M1237.59,889.18h0M1239.27,889.04h0M1240.96,887.47h0M1242.65,888.99h0M1244.34,887.94h0M1246.02,888.98h0M1247.71,888.26h0M1249.4,887.08h0M1251.09,888.39h0M1252.77,887.79h0M1254.46,887.33h0M1256.15,887.5h0M1257.84,886.82h0M1259.52,885.66h0M1261.21,887.3h0M1262.9,885.6h0M1264.59,885.21h0M1266.27,884.27h0M1267.96,885.22h0M1269.65,884.99h0M1271.34,883.08h0M1273.02,882.67h0M1274.71,880.19h0M1276.4,878.71h0M1278.09,876.75h0M1279.77,874.88h0M1281.46,873.5h0M1283.15,870.61h0M1284.84,867.15h0M1286.52,865.3h0M1288.21,861.07h0M1289.9,857.88h0M1291.59,854.23h0M1293.27,850.9h0M1294.96,849.23h0M1296.65,845.71h0M1298.34,843.79h0M1300.02,838.69h0M1301.71,837.37h0M1303.4,832.53h0M1305.09,829.65h0M1306.77,825.75h0M1308.46,822.68h0M1310.15,817.67h0M1311.84,812.81h0M1313.52,809.73h0M1315.21,804.5h0M1316.9,800.99h0M1318.59,796.8h0M1320.27,791.72h0M1321.96,788.85h0M1323.65,784.41h0M1325.34,781.28h0M1327.02,778.25h0M1328.71,774.08h0M1330.4,769.05h0" stroke="#12e212" stroke-width="5.2" stroke-linecap="round"/>
<path d="M1060.4,943.13h0M1062.09,943.52h0M1063.78,942.29h0M1065.46,941.09h0M1067.15,939.05h0M1068.84,939.18h0M1070.53,937.61h0M1072.21,935.56h0M1073.9,934.51h0M1075.59,934.44h0M1077.28,934.18h0M1078.96,932.26h0M1080.65,930.59h0M1082.34,930.5h0M1084.03,928.39h0M1085.71,928.42h0M1087.4,927.04h0M1089.09,925.36h0M1090.78,925.61h0M1092.46,924.81h0M1094.15,924.93h0M1095.84,923.73h0M1097.52,922.09h0M1099.21,922.11h0M1100.9,920.53h0M1102.59,920.72h0M1104.27,919.92h0M1105.96,919.27h0M1107.65,917.6h0M1109.34,918.16h0M1111.02,917.15h0M1112.71,916.97h0M1114.4,914.8h0M1116.09,915.68h0M1117.77,915.5h0M1119.46,914.02h0M1121.15,912.35h0M1122.84,913.38h0M1124.52,911.88h0M1126.21,910.58h0M1127.9,910.66h0M1129.59,910.5h0M1131.27,908.17h0M1132.96,908.49h0M1134.65,907.99h0M1136.34,907.99h0M1138.02,905.41h0M1139.71,905.85h0M1141.4,905.78h0M1143.09,905.07h0M1144.77,904.96h0M1146.46,903.93h0M1148.15,903.27h0M1149.84,902.58h0M1151.52,900.91h0M1153.21,901.73h0M1154.9,900.27h0M1156.59,898.49h0M1158.27,899.58h0M1159.96,898.63h0M1161.65,897.92h0M1163.34,895.95h0M1165.02,896.76h0M1166.71,895.36h0M1168.4,895.83h0M1170.09,893.83h0M1171.77,893.69h0M1173.46,892.65h0M1175.15,891.97h0M1176.84,892.17h0M1178.52,892.55h0M1180.21,891.53h0M1181.9,890.88h0M1183.59,891.92h0M1185.27,891.12h0M1186.96,891.33h0M1188.65,889.56h0M1190.34,889.04h0M1192.02,890.48h0M1193.71,888.29h0M1195.4,889.63h0M1197.09,889.98h0M1198.77,889.48h0M1200.46,889.16h0M1202.15,888.71h0M1203.84,888.54h0M1205.52,888.04h0M1207.21,888.71h0M1208.9,888.97h0M1210.59,888.4h0M1212.27,889.97h0M1213.96,890.01h0M1215.65,888.44h0M1217.34,889.1h0M1219.02,889.7h0M1220.71,889.02h0M1222.4,888.48h0M1224.09,889.54h0M1225.77,888.82h0M1227.46,888.99h0M1229.15,889.27h0M1230.84,888.21h0M1232.52,889.06h0M1234.21,888.1h0M1235.9,888.91h0M1237.59,888h0M1239.27,889.15h0M1240.96,888.11h0M1242.65,889.4h0M1244.34,887.61h0M1246.02,888.74h0M1247.71,888.97h0M1249.4,888.92h0M1251.09,888.02h0M1252.77,887.91h0M1254.46,887.15h0M1256.15,888.16h0M1257.84,887.72h0M1259.52,886.92h0M1261.21,886.64h0M1262.9,887.26h0M1264.59,886.13h0M1266.27,884.72h0M1267.96,884.29h0M1269.65,885.21h0M1271.34,883.94h0M1273.02,882.99h0M1274.71,881.47h0M1276.4,879.12h0M1278.09,879.21h0M1279.77,876.52h0M1281.46,874.83h0M1283.15,872.76h0M1284.84,869.55h0M1286.52,868.4h0M1288.21,865.16h0M1289.9,859.75h0M1291.59,856.6h0M1293.27,854.31h0M1294.96,852.68h0M1296.65,848.65h0M1298.34,846.67h0M1300.02,842.41h0M1301.71,839.71h0M1303.4,837.45h0M1305.09,834.05h0M1306.77,830.03h0M1308.46,826.69h0M1310.15,822.75h0M1311.84,817.62h0M1313.52,812.56h0M1315.21,808.32h0M1316.9,805.23h0M1318.59,799.94h0M1320.27,795.96h0M1321.96,792.54h0M1323.65,790.67h0M1325.34,787.33h0M1327.02,782.71h0M1328.71,778.4h0M1330.4,775.04h0" stroke="#0fd60f" stroke-width="5.2" stroke-linecap="round"/>
<path d="M1060.4,940.43h0M1062.09,938.73h0M1063.78,938.44h0M1065.46,937.4h0M1067.15,936.25h0M1068.84,935.38h0M1070.53,933.54h0M1072.21,931.77h0M1073.9,932.11h0M1075.59,931.6h0M1077.28,929.9h0M1078.96,928.03h0M1080.65,928.57h0M1082.34,927.63h0M1084.03,926.73h0M1085.71,925.3h0M1087.4,925.1h0M1089.09,922.77h0M1090.78,922.78h0M1092.46,922.98h0M1094.15,922.27h0M1095.84,921.15h0M1097.52,920h0M1099.21,919.42h0M1100.9,918.24h0M1102.59,917.23h0M1104.27,918.08h0M1105.96,916.77h0M1107.65,915.66h0M1109.34,914.99h0M1111.02,914.07h0M1112.71,913.52h0M1114.4,914h0M1116.09,912.57h0M1117.77,912.04h0M1119.46,912.58h0M1121.15,910.29h0M1122.84,911.54h0M1124.52,909.72h0M1126.21,910h0M1127.9,909.37h0M1129.59,908.43h0M1131.27,906.42h0M1132.96,907.13h0M1134.65,906.06h0M1136.34,905.17h0M1138.02,905.05h0M1139.71,904.83h0M1141.4,903.71h0M1143.09,903.24h0M1144.77,902.31h0M1146.46,901.67h0M1148.15,902.12h0M1149.84,902.3h0M1151.52,899.74h0M1153.21,900.32h0M1154.9,899.55h0M1156.59,899.23h0M1158.27,897.67h0M1159.96,896.95h0M1161.65,896.41h0M1163.34,897.03h0M1165.02,896.49h0M1166.71,895.86h0M1168.4,894.16h0M1170.09,893.87h0M1171.77,893.18h0M1173.46,893.57h0M1175.15,892.12h0M1176.84,892.8h0M1178.52,892.51h0M1180.21,891.56h0M1181.9,890.42h0M1183.59,890.28h0M1185.27,890.63h0M1186.96,890.71h0M1188.65,889.25h0M1190.34,889.98h0M1192.02,890.32h0M1193.71,889.71h0M1195.4,889.85h0M1197.09,890.01h0M1198.77,888.5h0M1200.46,888.36h0M1202.15,889.88h0M1203.84,888.75h0M1205.52,888.13h0M1207.21,889.26h0M1208.9,888.93h0M1210.59,888.28h0M1212.27,889.86h0M1213.96,888.89h0M1215.65,889.99h0M1217.34,888.41h0M1219.02,887.9h0M1220.71,889.75h0M1222.4,888.38h0M1224.09,889.74h0M1225.77,888.75h0M1227.46,889.18h0M1229.15,887.89h0M1230.84,888.19h0M1232.52,889.07h0M1234.21,889.64h0M1235.9,889.32h0M1237.59,889.47h0M1239.27,889.14h0M1240.96,889.53h0M1242.65,887.87h0M1244.34,887.56h0M1246.02,887.76h0M1247.71,888.44h0M1249.4,887.9h0M1251.09,887.07h0M1252.77,887.12h0M1254.46,887.29h0M1256.15,887.2h0M1257.84,886.94h0M1259.52,887.25h0M1261.21,887.2h0M1262.9,887.36h0M1264.59,886.03h0M1266.27,886.92h0M1267.96,885.29h0M1269.65,884.91h0M1271.34,884.32h0M1273.02,884.27h0M1274.71,883.13h0M1276.4,881.15h0M1278.09,879.5h0M1279.77,877.29h0M1281.46,875.92h0M1283.15,873.69h0M1284.84,872.13h0M1286.52,869.17h0M1288.21,867.18h0M1289.9,864.22h0M1291.59,860.44h0M1293.27,857.37h0M1294.96,854.2h0M1296.65,852.71h0M1298.34,849.95h0M1300.02,846.31h0M1301.71,843.86h0M1303.4,839.89h0M1305.09,837.46h0M1306.77,833.99h0M1308.46,831.99h0M1310.15,827.45h0M1311.84,823.73h0M1313.52,818.6h0M1315.21,813.09h0M1316.9,809.47h0M1318.59,806.04h0M1320.27,802.82h0M1321.96,798.55h0M1323.65,794.47h0M1325.34,791.89h0M1327.02,788.56h0M1328.71,785.83h0M1330.4,781.36h0" stroke="#0cc80c" stroke-width="5.2" stroke-linecap="round"/>
<path d="M1060.4,934.05h0M1062.09,935.25h0M1063.78,932.49h0M1065.46,932.06h0M1067.15,932.47h0M1068.84,930.9h0M1070.53,929.99h0M1072.21,928.52h0M1073.9,927.53h0M1075.59,926.42h0M1077.28,926.54h0M1078.96,924.79h0M1080.65,923.39h0M1082.34,922.72h0M1084.03,921.77h0M1085.71,922.65h0M1087.4,920.52h0M1089.09,919.74h0M1090.78,919.99h0M1092.46,918.55h0M1094.15,919.01h0M1095.84,918.12h0M1097.52,917.28h0M1099.21,916.42h0M1100.9,915.61h0M1102.59,915.16h0M1104.27,915.17h0M1105.96,913.18h0M1107.65,913h0M1109.34,913.48h0M1111.02,912.97h0M1112.71,912.15h0M1114.4,910.93h0M1116.09,910.32h0M1117.77,910.44h0M1119.46,909.28h0M1121.15,909.75h0M1122.84,909.23h0M1124.52,908.55h0M1126.21,907.77h0M1127.9,907.79h0M1129.59,906.47h0M1131.27,905.3h0M1132.96,904.64h0M1134.65,903.78h0M1136.34,904.38h0M1138.02,904.18h0M1139.71,903.35h0M1141.4,901.82h0M1143.09,902.61h0M1144.77,902.23h0M1146.46,900.93h0M1148.15,900.82h0M1149.84,899.24h0M1151.52,899.82h0M1153.21,897.95h0M1154.9,898.08h0M1156.59,898.51h0M1158.27,897.55h0M1159.96,896.45h0M1161.65,897.09h0M1163.34,895.93h0M1165.02,896.07h0M1166.71,894.6h0M1168.4,894.49h0M1170.09,894h0M1171.77,892.25h0M1173.46,892h0M1175.15,891.55h0M1176.84,891.34h0M1178.52,892.68h0M1180.21,891.65h0M1181.9,891.43h0M1183.59,891.57h0M1185.27,889.65h0M1186.96,890.64h0M1188.65,889.88h0M1190.34,889.33h0M1192.02,889.92h0M1193.71,889.84h0M1195.4,889.21h0M1197.09,889.41h0M1198.77,889.77h0M1200.46,888.7h0M1202.15,889.74h0M1203.84,888.95h0M1205.52,889.91h0M1207.21,889.47h0M1208.9,889.23h0M1210.59,890.03h0M1212.27,888.98h0M1213.96,888.32h0M1215.65,888.99h0M1217.34,888.63h0M1219.02,889.92h0M1220.71,888.16h0M1222.4,889.12h0M1224.09,888.96h0M1225.77,887.97h0M1227.46,889.21h0M1229.15,888.93h0M1230.84,888.59h0M1232.52,889.7h0M1234.21,887.82h0M1235.9,888.93h0M1237.59,888.15h0M1239.27,888.57h0M1240.96,888.25h0M1242.65,888.9h0M1244.34,889.3h0M1246.02,887.46h0M1247.71,888.28h0M1249.4,888.78h0M1251.09,887.72h0M1252.77,887.71h0M1254.46,888.9h0M1256.15,886.88h0M1257.84,887.72h0M1259.52,887.75h0M1261.21,887.44h0M1262.9,885.88h0M1264.59,887.58h0M1266.27,885.22h0M1267.96,884.89h0M1269.65,885.62h0M1271.34,884.08h0M1273.02,883.99h0M1274.71,884.13h0M1276.4,882.49h0M1278.09,881.22h0M1279.77,880.47h0M1281.46,877.06h0M1283.15,877.28h0M1284.84,874.69h0M1286.52,872.52h0M1288.21,868.34h0M1289.9,867.24h0M1291.59,863.09h0M1293.27,860.05h0M1294.96,857.71h0M1296.65,854.44h0M1298.34,852.89h0M1300.02,850.1h0M1301.71,846.13h0M1303.4,842.98h0M1305.09,840.57h0M1306.77,839.05h0M1308.46,834.56h0M1310.15,831.66h0M1311.84,827.1h0M1313.52,823.42h0M1315.21,820.12h0M1316.9,814.85h0M1318.59,810.03h0M1320.27,807.49h0M1321.96,804.15h0M1323.65,799.73h0M1325.34,795.98h0M1327.02,793.43h0M1328.71,791.15h0M1330.4,787h0" stroke="#0aba0a" stroke-width="5.2" stroke-linecap="round"/>
<path d="M1060.4,928.86h0M1062.09,929.52h0M1063.78,927.76h0M1065.46,927.58h0M1067.15,926.49h0M1068.84,925.16h0M1070.53,924.77h0M1072.21,923.67h0M1073.9,923.46h0M1075.59,921.81h0M1077.28,922.89h0M1078.96,921.74h0M1080.65,920.75h0M1082.34,918.94h0M1084.03,919.76h0M1085.71,919.11h0M1087.4,916.58h0M1089.09,916.24h0M1090.78,915.38h0M1092.46,915.15h0M1094.15,915.67h0M1095.84,915.53h0M1097.52,913.98h0M1099.21,913.2h0M1100.9,913.38h0M1102.59,913.12h0M1104.27,911.84h0M1105.96,911.29h0M1107.65,910.6h0M1109.34,910.2h0M1111.02,909.72h0M1112.71,908.55h0M1114.4,909.88h0M1116.09,908.49h0M1117.77,908.37h0M1119.46,907.35h0M1121.15,907.56h0M1122.84,905.82h0M1124.52,906.68h0M1126.21,906.41h0M1127.9,904.09h0M1129.59,904.26h0M1131.27,902.88h0M1132.96,903.99h0M1134.65,902.95h0M1136.34,901.39h0M1138.02,902.84h0M1139.71,902.45h0M1141.4,900.61h0M1143.09,901.21h0M1144.77,899.33h0M1146.46,900.18h0M1148.15,898.98h0M1149.84,897.86h0M1151.52,897.97h0M1153.21,897.96h0M1154.9,896.33h0M1156.59,897.67h0M1158.27,896.15h0M1159.96,895.88h0M1161.65,896.4h0M1163.34,895.84h0M1165.02,894.92h0M1166.71,894.49h0M1168.4,894.31h0M1170.09,893.45h0M1171.77,892.99h0M1173.46,893.18h0M1175.15,891.17h0M1176.84,892.7h0M1178.52,890.77h0M1180.21,890.43h0M1181.9,891h0M1183.59,890.58h0M1185.27,890.3h0M1186.96,890.78h0M1188.65,888.65h0M1190.34,888.76h0M1192.02,888.66h0M1193.71,889.28h0M1195.4,888.69h0M1197.09,889.32h0M1198.77,888.82h0M1200.46,887.96h0M1202.15,889.64h0M1203.84,889.01h0M1205.52,888.76h0M1207.21,888.51h0M1208.9,889.8h0M1210.59,889.26h0M1212.27,888.09h0M1213.96,888.73h0M1215.65,890.02h0M1217.34,888.38h0M1219.02,888.07h0M1220.71,887.94h0M1222.4,887.92h0M1224.09,887.83h0M1225.77,888.75h0M1227.46,889.69h0M1229.15,889.76h0M1230.84,889.65h0M1232.52,888.47h0M1234.21,889.12h0M1235.9,887.71h0M1237.59,889.25h0M1239.27,888.12h0M1240.96,888.93h0M1242.65,888.08h0M1244.34,888.47h0M1246.02,888.36h0M1247.71,888.64h0M1249.4,887.95h0M1251.09,887.58h0M1252.77,888.32h0M1254.46,888.65h0M1256.15,887.64h0M1257.84,888.73h0M1259.52,887.39h0M1261.21,887.06h0M1262.9,886.83h0M1264.59,887.86h0M1266.27,886.12h0M1267.96,886.53h0M1269.65,885.97h0M1271.34,886.55h0M1273.02,883.99h0M1274.71,885.34h0M1276.4,883.01h0M1278.09,882.85h0M1279.77,880.2h0M1281.46,879.85h0M1283.15,877.42h0M1284.84,875.43h0M1286.52,873.54h0M1288.21,871.18h0M1289.9,870.1h0M1291.59,866.2h0M1293.27,862.92h0M1294.96,861.17h0M1296.65,857.9h0M1298.34,855.58h0M1300.02,852.11h0M1301.71,849.29h0M1303.4,846.51h0M1305.09,844.24h0M1306.77,841.74h0M1308.46,839.53h0M1310.15,836.02h0M1311.84,832.63h0M1313.52,828.31h0M1315.21,824.58h0M1316.9,820.87h0M1318.59,816.16h0M1320.27,813.77h0M1321.96,810.49h0M1323.65,806.27h0M1325.34,802.5h0M1327.02,800.95h0M1328.71,796.09h0M1330.4,793.09h0" stroke="#08a808" stroke-width="5.2" stroke-linecap="round"/>
<path d="M1060.4,913.87h0M1062.09,913.42h0M1063.78,912.41h0M1065.46,911.6h0M1067.15,911.76h0M1068.84,910.91h0M1070.53,911.03h0M1072.21,909.59h0M1073.9,909.66h0M1075.59,908.75h0M1077.28,909.21h0M1078.96,908.78h0M1080.65,907.85h0M1082.34,907.53h0M1084.03,907.31h0M1085.71,906.93h0M1087.4,905.59h0M1089.09,905.47h0M1090.78,905.66h0M1092.46,904.69h0M1094.15,904.53h0M1095.84,904.86h0M1097.52,903.92h0M1099.21,903.71h0M1100.9,902.98h0M1102.59,902.57h0M1104.27,903.17h0M1105.96,902.71h0M1107.65,901.65h0M1109.34,902.32h0M1111.02,901.99h0M1112.71,901.03h0M1114.4,901.41h0M1116.09,900.23h0M1117.77,900.07h0M1119.46,900.53h0M1121.15,899.8h0M1122.84,899.35h0M1124.52,898.91h0M1126.21,898.5h0M1127.9,898.15h0M1129.59,898.18h0M1131.27,897.93h0M1132.96,897.14h0M1134.65,897.62h0M1136.34,896.56h0M1138.02,896.34h0M1139.71,896.98h0M1141.4,896.11h0M1143.09,895.57h0M1144.77,895.63h0M1146.46,895.11h0M1148.15,894.78h0M1149.84,895.53h0M1151.52,894.14h0M1153.21,894.62h0M1154.9,893.95h0M1156.59,893.38h0M1158.27,893.86h0M1159.96,893.14h0M1161.65,892.28h0M1163.34,892.4h0M1165.02,892.4h0M1166.71,891.9h0M1168.4,891.5h0M1170.09,891.29h0M1171.77,891.02h0M1173.46,890.99h0M1175.15,891.39h0M1176.84,891.09h0M1178.52,890.44h0M1180.21,890.67h0M1181.9,889.63h0M1183.59,890.03h0M1185.27,890.1h0M1186.96,889.29h0M1188.65,889.51h0M1190.34,889.34h0M1192.02,888.73h0M1193.71,889.66h0M1195.4,888.84h0M1197.09,889.08h0M1198.77,888.43h0M1200.46,889.02h0M1202.15,888.93h0M1203.84,889.45h0M1205.52,888.48h0M1207.21,889.46h0M1208.9,888.63h0M1210.59,889.41h0M1212.27,889.32h0M1213.96,889.12h0M1215.65,888.83h0M1217.34,888.94h0M1219.02,889.19h0M1220.71,888.83h0M1222.4,888.45h0M1224.09,889.21h0M1225.77,889.21h0M1227.46,888.68h0M1229.15,888.59h0M1230.84,889.4h0M1232.52,888.72h0M1234.21,888.38h0M1235.9,889.31h0M1237.59,888.54h0M1239.27,888.71h0M1240.96,888.9h0M1242.65,888.78h0M1244.34,888.46h0M1246.02,888.46h0M1247.71,888.76h0M1249.4,888.28h0M1251.09,889.18h0M1252.77,888.39h0M1254.46,888.22h0M1256.15,888.23h0M1257.84,888.2h0M1259.52,889.02h0M1261.21,888.4h0M1262.9,888.72h0M1264.59,888.71h0M1266.27,887.71h0M1267.96,888.21h0M1269.65,888.31h0M1271.34,887.45h0M1273.02,888.14h0M1274.71,887.49h0M1276.4,887.28h0M1278.09,887.63h0M1279.77,886.39h0M1281.46,886.99h0M1283.15,885.79h0M1284.84,885.6h0M1286.52,884.32h0M1288.21,883.82h0M1289.9,882.74h0M1291.59,882.33h0M1293.27,881.47h0M1294.96,879.3h0M1296.65,877.78h0M1298.34,876.79h0M1300.02,875.25h0M1301.71,873.22h0M1303.4,871.09h0M1305.09,869.04h0M1306.77,867.06h0M1308.46,864.6h0M1310.15,863.91h0M1311.84,861.67h0M1313.52,859.71h0M1315.21,857.33h0M1316.9,855.7h0M1318.59,853.99h0M1320.27,852.63h0M1321.96,849.77h0M1323.65,847.07h0M1325.34,843.84h0M1327.02,841.59h0M1328.71,838.36h0M1330.4,835.91h0" stroke="#4f9e4f" stroke-width="3.7" stroke-linecap="round"/>
<path d="M1060.4,913.87h0M1062.09,913.42h0M1063.78,912.41h0M1065.46,911.6h0M1067.15,911.76h0M1068.84,910.91h0M1070.53,911.03h0M1072.21,909.59h0M1073.9,909.66h0M1075.59,908.75h0M1077.28,909.21h0M1078.96,908.78h0M1080.65,907.85h0M1082.34,907.53h0M1084.03,907.31h0M1085.71,906.93h0M1087.4,905.59h0M1089.09,905.47h0M1090.78,905.66h0M1092.46,904.69h0M1094.15,904.53h0M1095.84,904.86h0M1097.52,903.92h0M1099.21,903.71h0M1100.9,902.98h0M1102.59,902.57h0M1104.27,903.17h0M1105.96,902.71h0M1107.65,901.65h0M1109.34,902.32h0M1111.02,901.99h0M1112.71,901.03h0M1114.4,901.41h0M1116.09,900.23h0M1117.77,900.07h0M1119.46,900.53h0M1121.15,899.8h0M1122.84,899.35h0M1124.52,898.91h0M1126.21,898.5h0M1127.9,898.15h0M1129.59,898.18h0M1131.27,897.93h0M1132.96,897.14h0M1134.65,897.62h0M1136.34,896.56h0M1138.02,896.34h0M1139.71,896.98h0M1141.4,896.11h0M1143.09,895.57h0M1144.77,895.63h0M1146.46,895.11h0M1148.15,894.78h0M1149.84,895.53h0M1151.52,894.14h0M1153.21,894.62h0M1154.9,893.95h0M1156.59,893.38h0M1158.27,893.86h0M1159.96,893.14h0M1161.65,892.28h0M1163.34,892.4h0M1165.02,892.4h0M1166.71,891.9h0M1168.4,891.5h0M1170.09,891.29h0M1171.77,891.02h0M1173.46,890.99h0M1175.15,891.39h0M1176.84,891.09h0M1178.52,890.44h0M1180.21,890.67h0M1181.9,889.63h0M1183.59,890.03h0M1185.27,890.1h0M1186.96,889.29h0M1188.65,889.51h0M1190.34,889.34h0M1192.02,888.73h0M1193.71,889.66h0M1195.4,888.84h0M1197.09,889.08h0M1198.77,888.43h0M1200.46,889.02h0M1202.15,888.93h0M1203.84,889.45h0M1205.52,888.48h0M1207.21,889.46h0M1208.9,888.63h0M1210.59,889.41h0M1212.27,889.32h0M1213.96,889.12h0M1215.65,888.83h0M1217.34,888.94h0M1219.02,889.19h0M1220.71,888.83h0M1222.4,888.45h0M1224.09,889.21h0M1225.77,889.21h0M1227.46,888.68h0M1229.15,888.59h0M1230.84,889.4h0M1232.52,888.72h0M1234.21,888.38h0M1235.9,889.31h0M1237.59,888.54h0M1239.27,888.71h0M1240.96,888.9h0M1242.65,888.78h0M1244.34,888.46h0M1246.02,888.46h0M1247.71,888.76h0M1249.4,888.28h0M1251.09,889.18h0M1252.77,888.39h0M1254.46,888.22h0M1256.15,888.23h0M1257.84,888.2h0M1259.52,889.02h0M1261.21,888.4h0M1262.9,888.72h0M1264.59,888.71h0M1266.27,887.71h0M1267.96,888.21h0M1269.65,888.31h0M1271.34,887.45h0M1273.02,888.14h0M1274.71,887.49h0M1276.4,887.28h0M1278.09,887.63h0M1279.77,886.39h0M1281.46,886.99h0M1283.15,885.79h0M1284.84,885.6h0M1286.52,884.32h0M1288.21,883.82h0M1289.9,882.74h0M1291.59,882.33h0M1293.27,881.47h0M1294.96,879.3h0M1296.65,877.78h0M1298.34,876.79h0M1300.02,875.25h0M1301.71,873.22h0M1303.4,871.09h0M1305.09,869.04h0M1306.77,867.06h0M1308.46,864.6h0M1310.15,863.91h0M1311.84,861.67h0M1313.52,859.71h0M1315.21,857.33h0M1316.9,855.7h0M1318.59,853.99h0M1320.27,852.63h0M1321.96,849.77h0M1323.65,847.07h0M1325.34,843.84h0M1327.02,841.59h0M1328.71,838.36h0M1330.4,835.91h0" stroke="#fff" stroke-width="1.2" stroke-linecap="round" stroke-opacity="0.7"/>
<path d="M1060.4,903.18h0M1062.09,902.45h0M1063.78,903.02h0M1065.46,901.99h0M1067.15,901.99h0M1068.84,902.24h0M1070.53,901.28h0M1072.21,901.24h0M1073.9,901.1h0M1075.59,900.52h0M1077.28,900.04h0M1078.96,900.09h0M1080.65,900.15h0M1082.34,899.43h0M1084.03,899.51h0M1085.71,898.75h0M1087.4,898.68h0M1089.09,899.13h0M1090.78,897.87h0M1092.46,898.69h0M1094.15,897.46h0M1095.84,898.17h0M1097.52,897.46h0M1099.21,897.66h0M1100.9,896.91h0M1102.59,896.67h0M1104.27,896.39h0M1105.96,896.12h0M1107.65,896.38h0M1109.34,895.82h0M1111.02,895.94h0M1112.71,896.49h0M1114.4,896.12h0M1116.09,895.62h0M1117.77,894.97h0M1119.46,894.83h0M1121.15,895.79h0M1122.84,894.95h0M1124.52,894.95h0M1126.21,894.95h0M1127.9,894.63h0M1129.59,894.62h0M1131.27,894.22h0M1132.96,893.96h0M1134.65,893.74h0M1136.34,894.1h0M1138.02,894.06h0M1139.71,893.18h0M1141.4,892.83h0M1143.09,893.55h0M1144.77,892.64h0M1146.46,893.01h0M1148.15,892.27h0M1149.84,892.54h0M1151.52,892.03h0M1153.21,891.52h0M1154.9,891.31h0M1156.59,891.47h0M1158.27,891.49h0M1159.96,891.3h0M1161.65,891.13h0M1163.34,891.04h0M1165.02,890.43h0M1166.71,890.9h0M1168.4,890.9h0M1170.09,890.36h0M1171.77,890.25h0M1173.46,889.71h0M1175.15,889.47h0M1176.84,889.61h0M1178.52,889.72h0M1180.21,889.23h0M1181.9,889.43h0M1183.59,889.47h0M1185.27,889.46h0M1186.96,889.61h0M1188.65,889.28h0M1190.34,888.79h0M1192.02,888.89h0M1193.71,888.98h0M1195.4,889.05h0M1197.09,888.91h0M1198.77,888.87h0M1200.46,889.49h0M1202.15,889.2h0M1203.84,889.51h0M1205.52,888.61h0M1207.21,889.2h0M1208.9,888.97h0M1210.59,888.78h0M1212.27,888.46h0M1213.96,889.47h0M1215.65,888.41h0M1217.34,889.39h0M1219.02,888.84h0M1220.71,889.41h0M1222.4,888.42h0M1224.09,888.42h0M1225.77,888.84h0M1227.46,889.09h0M1229.15,889.12h0M1230.84,888.67h0M1232.52,889.08h0M1234.21,888.79h0M1235.9,888.49h0M1237.59,888.42h0M1239.27,888.55h0M1240.96,889.31h0M1242.65,888.56h0M1244.34,888.87h0M1246.02,888.36h0M1247.71,889.35h0M1249.4,889.23h0M1251.09,888.33h0M1252.77,888.36h0M1254.46,889.13h0M1256.15,888.4h0M1257.84,888.13h0M1259.52,888.69h0M1261.21,888.1h0M1262.9,887.96h0M1264.59,888.55h0M1266.27,888.85h0M1267.96,887.8h0M1269.65,888.46h0M1271.34,888.06h0M1273.02,888.19h0M1274.71,887.4h0M1276.4,887.25h0M1278.09,887.31h0M1279.77,886.66h0M1281.46,886.49h0M1283.15,885.95h0M1284.84,886.35h0M1286.52,885.3h0M1288.21,884.16h0M1289.9,884.22h0M1291.59,882.43h0M1293.27,881.19h0M1294.96,880.64h0M1296.65,879.62h0M1298.34,877.98h0M1300.02,876.37h0M1301.71,874.19h0M1303.4,872.77h0M1305.09,870.66h0M1306.77,868.44h0M1308.46,867.57h0M1310.15,864.9h0M1311.84,863.54h0M1313.52,862.12h0M1315.21,860.8h0M1316.9,858.33h0M1318.59,856.39h0M1320.27,855.03h0M1321.96,853.03h0M1323.65,849.87h0M1325.34,847.43h0M1327.02,845.05h0M1328.71,842.4h0M1330.4,840.36h0" stroke="#6aa86a" stroke-width="3.7" stroke-linecap="round"/>
<path d="M1060.4,903.18h0M1062.09,902.45h0M1063.78,903.02h0M1065.46,901.99h0M1067.15,901.99h0M1068.84,902.24h0M1070.53,901.28h0M1072.21,901.24h0M1073.9,901.1h0M1075.59,900.52h0M1077.28,900.04h0M1078.96,900.09h0M1080.65,900.15h0M1082.34,899.43h0M1084.03,899.51h0M1085.71,898.75h0M1087.4,898.68h0M1089.09,899.13h0M1090.78,897.87h0M1092.46,898.69h0M1094.15,897.46h0M1095.84,898.17h0M1097.52,897.46h0M1099.21,897.66h0M1100.9,896.91h0M1102.59,896.67h0M1104.27,896.39h0M1105.96,896.12h0M1107.65,896.38h0M1109.34,895.82h0M1111.02,895.94h0M1112.71,896.49h0M1114.4,896.12h0M1116.09,895.62h0M1117.77,894.97h0M1119.46,894.83h0M1121.15,895.79h0M1122.84,894.95h0M1124.52,894.95h0M1126.21,894.95h0M1127.9,894.63h0M1129.59,894.62h0M1131.27,894.22h0M1132.96,893.96h0M1134.65,893.74h0M1136.34,894.1h0M1138.02,894.06h0M1139.71,893.18h0M1141.4,892.83h0M1143.09,893.55h0M1144.77,892.64h0M1146.46,893.01h0M1148.15,892.27h0M1149.84,892.54h0M1151.52,892.03h0M1153.21,891.52h0M1154.9,891.31h0M1156.59,891.47h0M1158.27,891.49h0M1159.96,891.3h0M1161.65,891.13h0M1163.34,891.04h0M1165.02,890.43h0M1166.71,890.9h0M1168.4,890.9h0M1170.09,890.36h0M1171.77,890.25h0M1173.46,889.71h0M1175.15,889.47h0M1176.84,889.61h0M1178.52,889.72h0M1180.21,889.23h0M1181.9,889.43h0M1183.59,889.47h0M1185.27,889.46h0M1186.96,889.61h0M1188.65,889.28h0M1190.34,888.79h0M1192.02,888.89h0M1193.71,888.98h0M1195.4,889.05h0M1197.09,888.91h0M1198.77,888.87h0M1200.46,889.49h0M1202.15,889.2h0M1203.84,889.51h0M1205.52,888.61h0M1207.21,889.2h0M1208.9,888.97h0M1210.59,888.78h0M1212.27,888.46h0M1213.96,889.47h0M1215.65,888.41h0M1217.34,889.39h0M1219.02,888.84h0M1220.71,889.41h0M1222.4,888.42h0M1224.09,888.42h0M1225.77,888.84h0M1227.46,889.09h0M1229.15,889.12h0M1230.84,888.67h0M1232.52,889.08h0M1234.21,888.79h0M1235.9,888.49h0M1237.59,888.42h0M1239.27,888.55h0M1240.96,889.31h0M1242.65,888.56h0M1244.34,888.87h0M1246.02,888.36h0M1247.71,889.35h0M1249.4,889.23h0M1251.09,888.33h0M1252.77,888.36h0M1254.46,889.13h0M1256.15,888.4h0M1257.84,888.13h0M1259.52,888.69h0M1261.21,888.1h0M1262.9,887.96h0M1264.59,888.55h0M1266.27,888.85h0M1267.96,887.8h0M1269.65,888.46h0M1271.34,888.06h0M1273.02,888.19h0M1274.71,887.4h0M1276.4,887.25h0M1278.09,887.31h0M1279.77,886.66h0M1281.46,886.49h0M1283.15,885.95h0M1284.84,886.35h0M1286.52,885.3h0M1288.21,884.16h0M1289.9,884.22h0M1291.59,882.43h0M1293.27,881.19h0M1294.96,880.64h0M1296.65,879.62h0M1298.34,877.98h0M1300.02,876.37h0M1301.71,874.19h0M1303.4,872.77h0M1305.09,870.66h0M1306.77,868.44h0M1308.46,867.57h0M1310.15,864.9h0M1311.84,863.54h0M1313.52,862.12h0M1315.21,860.8h0M1316.9,858.33h0M1318.59,856.39h0M1320.27,855.03h0M1321.96,853.03h0M1323.65,849.87h0M1325.34,847.43h0M1327.02,845.05h0M1328.71,842.4h0M1330.4,840.36h0" stroke="#fff" stroke-width="1.2" stroke-linecap="round" stroke-opacity="0.7"/>
<path d="M1060.4,899.04h0M1062.09,899.61h0M1063.78,898.49h0M1065.46,898.59h0M1067.15,899.02h0M1068.84,898.41h0M1070.53,898.68h0M1072.21,898.1h0M1073.9,898.1h0M1075.59,897.23h0M1077.28,897.34h0M1078.96,897.12h0M1080.65,896.71h0M1082.34,896.72h0M1084.03,896.76h0M1085.71,896.92h0M1087.4,896.28h0M1089.09,895.59h0M1090.78,895.78h0M1092.46,895.54h0M1094.15,895.34h0M1095.84,895.41h0M1097.52,895.12h0M1099.21,895.55h0M1100.9,895h0M1102.59,895.39h0M1104.27,894.57h0M1105.96,895.26h0M1107.65,894.1h0M1109.34,894.58h0M1111.02,893.86h0M1112.71,893.86h0M1114.4,894.44h0M1116.09,894.01h0M1117.77,893.67h0M1119.46,893.17h0M1121.15,894.01h0M1122.84,893.62h0M1124.52,892.75h0M1126.21,893.01h0M1127.9,893.05h0M1129.59,892.37h0M1131.27,892.29h0M1132.96,892.84h0M1134.65,893.01h0M1136.34,892.22h0M1138.02,891.75h0M1139.71,892.16h0M1141.4,892.41h0M1143.09,892.3h0M1144.77,892.23h0M1146.46,892.09h0M1148.15,891.91h0M1149.84,891.02h0M1151.52,891.6h0M1153.21,891.8h0M1154.9,891.12h0M1156.59,890.72h0M1158.27,891.31h0M1159.96,891.06h0M1161.65,890.69h0M1163.34,889.92h0M1165.02,890.29h0M1166.71,890.15h0M1168.4,890.45h0M1170.09,890.6h0M1171.77,889.95h0M1173.46,889.79h0M1175.15,889.87h0M1176.84,889.77h0M1178.52,889.79h0M1180.21,889.17h0M1181.9,889.35h0M1183.59,889.75h0M1185.27,889.39h0M1186.96,889.13h0M1188.65,888.77h0M1190.34,888.76h0M1192.02,888.57h0M1193.71,889.53h0M1195.4,889.07h0M1197.09,889.26h0M1198.77,889.23h0M1200.46,889.12h0M1202.15,888.53h0M1203.84,888.93h0M1205.52,888.77h0M1207.21,888.4h0M1208.9,889.01h0M1210.59,889.51h0M1212.27,889.55h0M1213.96,888.55h0M1215.65,889.34h0M1217.34,888.43h0M1219.02,888.57h0M1220.71,888.56h0M1222.4,888.72h0M1224.09,888.41h0M1225.77,888.62h0M1227.46,888.45h0M1229.15,889.19h0M1230.84,889.37h0M1232.52,888.96h0M1234.21,888.39h0M1235.9,888.58h0M1237.59,888.4h0M1239.27,889.45h0M1240.96,888.85h0M1242.65,888.45h0M1244.34,888.91h0M1246.02,888.51h0M1247.71,888.94h0M1249.4,888.73h0M1251.09,888.89h0M1252.77,889.1h0M1254.46,888.7h0M1256.15,888.27h0M1257.84,888.59h0M1259.52,888.69h0M1261.21,888.22h0M1262.9,888.94h0M1264.59,888.68h0M1266.27,887.92h0M1267.96,888.59h0M1269.65,888.45h0M1271.34,888.12h0M1273.02,887.9h0M1274.71,887.74h0M1276.4,887.1h0M1278.09,886.86h0M1279.77,887.57h0M1281.46,886.86h0M1283.15,886.76h0M1284.84,886.48h0M1286.52,886.24h0M1288.21,885.34h0M1289.9,884.3h0M1291.59,883.53h0M1293.27,882.23h0M1294.96,881.99h0M1296.65,880.61h0M1298.34,878.64h0M1300.02,877.89h0M1301.71,876.44h0M1303.4,874.55h0M1305.09,872.47h0M1306.77,870.75h0M1308.46,869.58h0M1310.15,867.76h0M1311.84,865.63h0M1313.52,864.62h0M1315.21,863.07h0M1316.9,860.83h0M1318.59,859.12h0M1320.27,857.58h0M1321.96,855.18h0M1323.65,853.71h0M1325.34,850.46h0M1327.02,848.58h0M1328.71,845.75h0M1330.4,843.34h0" stroke="#245c24" stroke-width="3.7" stroke-linecap="round"/>
<path d="M1060.4,899.04h0M1062.09,899.61h0M1063.78,898.49h0M1065.46,898.59h0M1067.15,899.02h0M1068.84,898.41h0M1070.53,898.68h0M1072.21,898.1h0M1073.9,898.1h0M1075.59,897.23h0M1077.28,897.34h0M1078.96,897.12h0M1080.65,896.71h0M1082.34,896.72h0M1084.03,896.76h0M1085.71,896.92h0M1087.4,896.28h0M1089.09,895.59h0M1090.78,895.78h0M1092.46,895.54h0M1094.15,895.34h0M1095.84,895.41h0M1097.52,895.12h0M1099.21,895.55h0M1100.9,895h0M1102.59,895.39h0M1104.27,894.57h0M1105.96,895.26h0M1107.65,894.1h0M1109.34,894.58h0M1111.02,893.86h0M1112.71,893.86h0M1114.4,894.44h0M1116.09,894.01h0M1117.77,893.67h0M1119.46,893.17h0M1121.15,894.01h0M1122.84,893.62h0M1124.52,892.75h0M1126.21,893.01h0M1127.9,893.05h0M1129.59,892.37h0M1131.27,892.29h0M1132.96,892.84h0M1134.65,893.01h0M1136.34,892.22h0M1138.02,891.75h0M1139.71,892.16h0M1141.4,892.41h0M1143.09,892.3h0M1144.77,892.23h0M1146.46,892.09h0M1148.15,891.91h0M1149.84,891.02h0M1151.52,891.6h0M1153.21,891.8h0M1154.9,891.12h0M1156.59,890.72h0M1158.27,891.31h0M1159.96,891.06h0M1161.65,890.69h0M1163.34,889.92h0M1165.02,890.29h0M1166.71,890.15h0M1168.4,890.45h0M1170.09,890.6h0M1171.77,889.95h0M1173.46,889.79h0M1175.15,889.87h0M1176.84,889.77h0M1178.52,889.79h0M1180.21,889.17h0M1181.9,889.35h0M1183.59,889.75h0M1185.27,889.39h0M1186.96,889.13h0M1188.65,888.77h0M1190.34,888.76h0M1192.02,888.57h0M1193.71,889.53h0M1195.4,889.07h0M1197.09,889.26h0M1198.77,889.23h0M1200.46,889.12h0M1202.15,888.53h0M1203.84,888.93h0M1205.52,888.77h0M1207.21,888.4h0M1208.9,889.01h0M1210.59,889.51h0M1212.27,889.55h0M1213.96,888.55h0M1215.65,889.34h0M1217.34,888.43h0M1219.02,888.57h0M1220.71,888.56h0M1222.4,888.72h0M1224.09,888.41h0M1225.77,888.62h0M1227.46,888.45h0M1229.15,889.19h0M1230.84,889.37h0M1232.52,888.96h0M1234.21,888.39h0M1235.9,888.58h0M1237.59,888.4h0M1239.27,889.45h0M1240.96,888.85h0M1242.65,888.45h0M1244.34,888.91h0M1246.02,888.51h0M1247.71,888.94h0M1249.4,888.73h0M1251.09,888.89h0M1252.77,889.1h0M1254.46,888.7h0M1256.15,888.27h0M1257.84,888.59h0M1259.52,888.69h0M1261.21,888.22h0M1262.9,888.94h0M1264.59,888.68h0M1266.27,887.92h0M1267.96,888.59h0M1269.65,888.45h0M1271.34,888.12h0M1273.02,887.9h0M1274.71,887.74h0M1276.4,887.1h0M1278.09,886.86h0M1279.77,887.57h0M1281.46,886.86h0M1283.15,886.76h0M1284.84,886.48h0M1286.52,886.24h0M1288.21,885.34h0M1289.9,884.3h0M1291.59,883.53h0M1293.27,882.23h0M1294.96,881.99h0M1296.65,880.61h0M1298.34,878.64h0M1300.02,877.89h0M1301.71,876.44h0M1303.4,874.55h0M1305.09,872.47h0M1306.77,870.75h0M1308.46,869.58h0M1310.15,867.76h0M1311.84,865.63h0M1313.52,864.62h0M1315.21,863.07h0M1316.9,860.83h0M1318.59,859.12h0M1320.27,857.58h0M1321.96,855.18h0M1323.65,853.71h0M1325.34,850.46h0M1327.02,848.58h0M1328.71,845.75h0M1330.4,843.34h0" stroke="#fff" stroke-width="1.2" stroke-linecap="round" stroke-opacity="0.7"/>
<path d="M1060.4,895.36h0M1062.09,895.41h0M1063.78,894.53h0M1065.46,895.11h0M1067.15,894.1h0M1068.84,894.24h0M1070.53,894.07h0M1072.21,894.26h0M1073.9,893.83h0M1075.59,893.59h0M1077.28,893.95h0M1078.96,893.62h0M1080.65,893.78h0M1082.34,893.49h0M1084.03,893.22h0M1085.71,893.23h0M1087.4,893.52h0M1089.09,893.31h0M1090.78,892.76h0M1092.46,892.85h0M1094.15,892.22h0M1095.84,893.16h0M1097.52,893.19h0M1099.21,892.85h0M1100.9,892.93h0M1102.59,892h0M1104.27,892.14h0M1105.96,891.81h0M1107.65,891.64h0M1109.34,891.96h0M1111.02,892.08h0M1112.71,892.33h0M1114.4,892.34h0M1116.09,891.52h0M1117.77,892.2h0M1119.46,892.17h0M1121.15,891.75h0M1122.84,891.88h0M1124.52,892.01h0M1126.21,891.41h0M1127.9,890.86h0M1129.59,890.87h0M1131.27,891.28h0M1132.96,891.31h0M1134.65,890.89h0M1136.34,890.72h0M1138.02,891.21h0M1139.71,891.07h0M1141.4,891.2h0M1143.09,890.86h0M1144.77,890.84h0M1146.46,890.56h0M1148.15,890.38h0M1149.84,890.59h0M1151.52,890.49h0M1153.21,889.96h0M1154.9,890.05h0M1156.59,889.65h0M1158.27,890.27h0M1159.96,889.57h0M1161.65,889.92h0M1163.34,890.44h0M1165.02,890.27h0M1166.71,890.01h0M1168.4,890.05h0M1170.09,889.84h0M1171.77,890.11h0M1173.46,889.1h0M1175.15,889.6h0M1176.84,889.27h0M1178.52,889.18h0M1180.21,889.85h0M1181.9,889.64h0M1183.59,888.97h0M1185.27,889.24h0M1186.96,889.37h0M1188.65,889.19h0M1190.34,888.93h0M1192.02,888.53h0M1193.71,889.28h0M1195.4,889.28h0M1197.09,888.86h0M1198.77,888.48h0M1200.46,888.47h0M1202.15,889.26h0M1203.84,889.27h0M1205.52,889.46h0M1207.21,888.85h0M1208.9,889.12h0M1210.59,889.2h0M1212.27,889.29h0M1213.96,889.55h0M1215.65,888.84h0M1217.34,889.14h0M1219.02,889.43h0M1220.71,889.44h0M1222.4,888.62h0M1224.09,888.67h0M1225.77,888.81h0M1227.46,888.68h0M1229.15,888.63h0M1230.84,889.43h0M1232.52,889.06h0M1234.21,889.26h0M1235.9,888.97h0M1237.59,888.36h0M1239.27,888.82h0M1240.96,888.53h0M1242.65,888.59h0M1244.34,889.2h0M1246.02,888.76h0M1247.71,888.93h0M1249.4,888.49h0M1251.09,888.18h0M1252.77,888.43h0M1254.46,888.26h0M1256.15,889.23h0M1257.84,889.18h0M1259.52,888.65h0M1261.21,889.04h0M1262.9,888.32h0M1264.59,888.94h0M1266.27,888.15h0M1267.96,888.41h0M1269.65,888.03h0M1271.34,887.87h0M1273.02,888.13h0M1274.71,887.59h0M1276.4,887.97h0M1278.09,888.16h0M1279.77,887.87h0M1281.46,886.74h0M1283.15,886.36h0M1284.84,886.65h0M1286.52,886.66h0M1288.21,885.88h0M1289.9,885.39h0M1291.59,884.36h0M1293.27,883.19h0M1294.96,882.21h0M1296.65,881.68h0M1298.34,880.63h0M1300.02,879.31h0M1301.71,876.97h0M1303.4,875.43h0M1305.09,873.4h0M1306.77,872.02h0M1308.46,870.77h0M1310.15,869.72h0M1311.84,868.38h0M1313.52,866.72h0M1315.21,864.98h0M1316.9,863.36h0M1318.59,861.37h0M1320.27,860.45h0M1321.96,858.23h0M1323.65,856.65h0M1325.34,854.22h0M1327.02,851.78h0M1328.71,849.76h0M1330.4,846.9h0" stroke="#163f16" stroke-width="3.7" stroke-linecap="round"/>
<path d="M1060.4,895.36h0M1062.09,895.41h0M1063.78,894.53h0M1065.46,895.11h0M1067.15,894.1h0M1068.84,894.24h0M1070.53,894.07h0M1072.21,894.26h0M1073.9,893.83h0M1075.59,893.59h0M1077.28,893.95h0M1078.96,893.62h0M1080.65,893.78h0M1082.34,893.49h0M1084.03,893.22h0M1085.71,893.23h0M1087.4,893.52h0M1089.09,893.31h0M1090.78,892.76h0M1092.46,892.85h0M1094.15,892.22h0M1095.84,893.16h0M1097.52,893.19h0M1099.21,892.85h0M1100.9,892.93h0M1102.59,892h0M1104.27,892.14h0M1105.96,891.81h0M1107.65,891.64h0M1109.34,891.96h0M1111.02,892.08h0M1112.71,892.33h0M1114.4,892.34h0M1116.09,891.52h0M1117.77,892.2h0M1119.46,892.17h0M1121.15,891.75h0M1122.84,891.88h0M1124.52,892.01h0M1126.21,891.41h0M1127.9,890.86h0M1129.59,890.87h0M1131.27,891.28h0M1132.96,891.31h0M1134.65,890.89h0M1136.34,890.72h0M1138.02,891.21h0M1139.71,891.07h0M1141.4,891.2h0M1143.09,890.86h0M1144.77,890.84h0M1146.46,890.56h0M1148.15,890.38h0M1149.84,890.59h0M1151.52,890.49h0M1153.21,889.96h0M1154.9,890.05h0M1156.59,889.65h0M1158.27,890.27h0M1159.96,889.57h0M1161.65,889.92h0M1163.34,890.44h0M1165.02,890.27h0M1166.71,890.01h0M1168.4,890.05h0M1170.09,889.84h0M1171.77,890.11h0M1173.46,889.1h0M1175.15,889.6h0M1176.84,889.27h0M1178.52,889.18h0M1180.21,889.85h0M1181.9,889.64h0M1183.59,888.97h0M1185.27,889.24h0M1186.96,889.37h0M1188.65,889.19h0M1190.34,888.93h0M1192.02,888.53h0M1193.71,889.28h0M1195.4,889.28h0M1197.09,888.86h0M1198.77,888.48h0M1200.46,888.47h0M1202.15,889.26h0M1203.84,889.27h0M1205.52,889.46h0M1207.21,888.85h0M1208.9,889.12h0M1210.59,889.2h0M1212.27,889.29h0M1213.96,889.55h0M1215.65,888.84h0M1217.34,889.14h0M1219.02,889.43h0M1220.71,889.44h0M1222.4,888.62h0M1224.09,888.67h0M1225.77,888.81h0M1227.46,888.68h0M1229.15,888.63h0M1230.84,889.43h0M1232.52,889.06h0M1234.21,889.26h0M1235.9,888.97h0M1237.59,888.36h0M1239.27,888.82h0M1240.96,888.53h0M1242.65,888.59h0M1244.34,889.2h0M1246.02,888.76h0M1247.71,888.93h0M1249.4,888.49h0M1251.09,888.18h0M1252.77,888.43h0M1254.46,888.26h0M1256.15,889.23h0M1257.84,889.18h0M1259.52,888.65h0M1261.21,889.04h0M1262.9,888.32h0M1264.59,888.94h0M1266.27,888.15h0M1267.96,888.41h0M1269.65,888.03h0M1271.34,887.87h0M1273.02,888.13h0M1274.71,887.59h0M1276.4,887.97h0M1278.09,888.16h0M1279.77,887.87h0M1281.46,886.74h0M1283.15,886.36h0M1284.84,886.65h0M1286.52,886.66h0M1288.21,885.88h0M1289.9,885.39h0M1291.59,884.36h0M1293.27,883.19h0M1294.96,882.21h0M1296.65,881.68h0M1298.34,880.63h0M1300.02,879.31h0M1301.71,876.97h0M1303.4,875.43h0M1305.09,873.4h0M1306.77,872.02h0M1308.46,870.77h0M1310.15,869.72h0M1311.84,868.38h0M1313.52,866.72h0M1315.21,864.98h0M1316.9,863.36h0M1318.59,861.37h0M1320.27,860.45h0M1321.96,858.23h0M1323.65,856.65h0M1325.34,854.22h0M1327.02,851.78h0M1328.71,849.76h0M1330.4,846.9h0" stroke="#fff" stroke-width="1.2" stroke-linecap="round" stroke-opacity="0.7"/>
<path d="M1060.4,891.96h0M1062.09,891.44h0M1063.78,891.74h0M1065.46,891.81h0M1067.15,892.12h0M1068.84,891.38h0M1070.53,891.8h0M1072.21,891.98h0M1073.9,891.15h0M1075.59,890.93h0M1077.28,891.61h0M1078.96,890.91h0M1080.65,890.84h0M1082.34,890.96h0M1084.03,891.32h0M1085.71,891.12h0M1087.4,890.79h0M1089.09,890.47h0M1090.78,891.27h0M1092.46,890.71h0M1094.15,890.55h0M1095.84,890.93h0M1097.52,890.75h0M1099.21,890.28h0M1100.9,890.39h0M1102.59,891.2h0M1104.27,891.01h0M1105.96,890.19h0M1107.65,890.31h0M1109.34,890.28h0M1111.02,890.53h0M1112.71,890.93h0M1114.4,890.49h0M1116.09,889.9h0M1117.77,890.9h0M1119.46,889.89h0M1121.15,890.24h0M1122.84,890.49h0M1124.52,890.39h0M1126.21,889.96h0M1127.9,890.23h0M1129.59,890.24h0M1131.27,889.56h0M1132.96,890.49h0M1134.65,889.89h0M1136.34,889.9h0M1138.02,889.9h0M1139.71,890.3h0M1141.4,889.74h0M1143.09,890.39h0M1144.77,889.84h0M1146.46,890.07h0M1148.15,890.08h0M1149.84,889.23h0M1151.52,889.76h0M1153.21,889.23h0M1154.9,889.41h0M1156.59,889.56h0M1158.27,889.3h0M1159.96,890.09h0M1161.65,889.24h0M1163.34,889.23h0M1165.02,889.47h0M1166.71,889.05h0M1168.4,889.88h0M1170.09,889.87h0M1171.77,889.39h0M1173.46,889.65h0M1175.15,889.09h0M1176.84,889.09h0M1178.52,888.99h0M1180.21,889.62h0M1181.9,889.48h0M1183.59,888.53h0M1185.27,888.69h0M1186.96,889.04h0M1188.65,889.1h0M1190.34,889h0M1192.02,888.86h0M1193.71,888.5h0M1195.4,888.63h0M1197.09,889.52h0M1198.77,889.19h0M1200.46,888.85h0M1202.15,888.75h0M1203.84,888.48h0M1205.52,888.59h0M1207.21,889.43h0M1208.9,888.87h0M1210.59,889.1h0M1212.27,888.64h0M1213.96,889.34h0M1215.65,888.57h0M1217.34,888.71h0M1219.02,888.42h0M1220.71,888.44h0M1222.4,888.63h0M1224.09,889.09h0M1225.77,889.33h0M1227.46,888.59h0M1229.15,888.63h0M1230.84,888.56h0M1232.52,889.03h0M1234.21,889.51h0M1235.9,888.95h0M1237.59,888.33h0M1239.27,889.17h0M1240.96,888.58h0M1242.65,888.33h0M1244.34,889.18h0M1246.02,888.35h0M1247.71,888.4h0M1249.4,889.36h0M1251.09,889.21h0M1252.77,888.6h0M1254.46,888.63h0M1256.15,888.39h0M1257.84,888.81h0M1259.52,888.57h0M1261.21,888.21h0M1262.9,888.3h0M1264.59,888.97h0M1266.27,888.14h0M1267.96,888.05h0M1269.65,887.87h0M1271.34,888.5h0M1273.02,888.51h0M1274.71,888.06h0M1276.4,887.41h0M1278.09,887.43h0M1279.77,887.33h0M1281.46,887.09h0M1283.15,886.99h0M1284.84,886.72h0M1286.52,886.78h0M1288.21,885.6h0M1289.9,885.09h0M1291.59,885.16h0M1293.27,883.68h0M1294.96,883.27h0M1296.65,882.36h0M1298.34,881.4h0M1300.02,880.69h0M1301.71,878.53h0M1303.4,876.68h0M1305.09,875.17h0M1306.77,874.64h0M1308.46,872.7h0M1310.15,871.03h0M1311.84,869.78h0M1313.52,868.19h0M1315.21,867.29h0M1316.9,865.21h0M1318.59,864.36h0M1320.27,863.1h0M1321.96,860.98h0M1323.65,860.09h0M1325.34,857.28h0M1327.02,855.86h0M1328.71,852.92h0M1330.4,851.01h0" stroke="#0e300e" stroke-width="3.7" stroke-linecap="round"/>
<path d="M1060.4,891.96h0M1062.09,891.44h0M1063.78,891.74h0M1065.46,891.81h0M1067.15,892.12h0M1068.84,891.38h0M1070.53,891.8h0M1072.21,891.98h0M1073.9,891.15h0M1075.59,890.93h0M1077.28,891.61h0M1078.96,890.91h0M1080.65,890.84h0M1082.34,890.96h0M1084.03,891.32h0M1085.71,891.12h0M1087.4,890.79h0M1089.09,890.47h0M1090.78,891.27h0M1092.46,890.71h0M1094.15,890.55h0M1095.84,890.93h0M1097.52,890.75h0M1099.21,890.28h0M1100.9,890.39h0M1102.59,891.2h0M1104.27,891.01h0M1105.96,890.19h0M1107.65,890.31h0M1109.34,890.28h0M1111.02,890.53h0M1112.71,890.93h0M1114.4,890.49h0M1116.09,889.9h0M1117.77,890.9h0M1119.46,889.89h0M1121.15,890.24h0M1122.84,890.49h0M1124.52,890.39h0M1126.21,889.96h0M1127.9,890.23h0M1129.59,890.24h0M1131.27,889.56h0M1132.96,890.49h0M1134.65,889.89h0M1136.34,889.9h0M1138.02,889.9h0M1139.71,890.3h0M1141.4,889.74h0M1143.09,890.39h0M1144.77,889.84h0M1146.46,890.07h0M1148.15,890.08h0M1149.84,889.23h0M1151.52,889.76h0M1153.21,889.23h0M1154.9,889.41h0M1156.59,889.56h0M1158.27,889.3h0M1159.96,890.09h0M1161.65,889.24h0M1163.34,889.23h0M1165.02,889.47h0M1166.71,889.05h0M1168.4,889.88h0M1170.09,889.87h0M1171.77,889.39h0M1173.46,889.65h0M1175.15,889.09h0M1176.84,889.09h0M1178.52,888.99h0M1180.21,889.62h0M1181.9,889.48h0M1183.59,888.53h0M1185.27,888.69h0M1186.96,889.04h0M1188.65,889.1h0M1190.34,889h0M1192.02,888.86h0M1193.71,888.5h0M1195.4,888.63h0M1197.09,889.52h0M1198.77,889.19h0M1200.46,888.85h0M1202.15,888.75h0M1203.84,888.48h0M1205.52,888.59h0M1207.21,889.43h0M1208.9,888.87h0M1210.59,889.1h0M1212.27,888.64h0M1213.96,889.34h0M1215.65,888.57h0M1217.34,888.71h0M1219.02,888.42h0M1220.71,888.44h0M1222.4,888.63h0M1224.09,889.09h0M1225.77,889.33h0M1227.46,888.59h0M1229.15,888.63h0M1230.84,888.56h0M1232.52,889.03h0M1234.21,889.51h0M1235.9,888.95h0M1237.59,888.33h0M1239.27,889.17h0M1240.96,888.58h0M1242.65,888.33h0M1244.34,889.18h0M1246.02,888.35h0M1247.71,888.4h0M1249.4,889.36h0M1251.09,889.21h0M1252.77,888.6h0M1254.46,888.63h0M1256.15,888.39h0M1257.84,888.81h0M1259.52,888.57h0M1261.21,888.21h0M1262.9,888.3h0M1264.59,888.97h0M1266.27,888.14h0M1267.96,888.05h0M1269.65,887.87h0M1271.34,888.5h0M1273.02,888.51h0M1274.71,888.06h0M1276.4,887.41h0M1278.09,887.43h0M1279.77,887.33h0M1281.46,887.09h0M1283.15,886.99h0M1284.84,886.72h0M1286.52,886.78h0M1288.21,885.6h0M1289.9,885.09h0M1291.59,885.16h0M1293.27,883.68h0M1294.96,883.27h0M1296.65,882.36h0M1298.34,881.4h0M1300.02,880.69h0M1301.71,878.53h0M1303.4,876.68h0M1305.09,875.17h0M1306.77,874.64h0M1308.46,872.7h0M1310.15,871.03h0M1311.84,869.78h0M1313.52,868.19h0M1315.21,867.29h0M1316.9,865.21h0M1318.59,864.36h0M1320.27,863.1h0M1321.96,860.98h0M1323.65,860.09h0M1325.34,857.28h0M1327.02,855.86h0M1328.71,852.92h0M1330.4,851.01h0" stroke="#fff" stroke-width="1.2" stroke-linecap="round" stroke-opacity="0.7"/>
<path d="M1060.4,890.44h0M1062.09,890.33h0M1063.78,889.57h0M1065.46,889.82h0M1067.15,889.95h0M1068.84,889.85h0M1070.53,889.98h0M1072.21,889.51h0M1073.9,890.22h0M1075.59,889.59h0M1077.28,889.92h0M1078.96,890.12h0M1080.65,889.44h0M1082.34,890.01h0M1084.03,890.11h0M1085.71,889.39h0M1087.4,889.88h0M1089.09,889.83h0M1090.78,890.3h0M1092.46,890.1h0M1094.15,889.59h0M1095.84,889.92h0M1097.52,889.57h0M1099.21,889.33h0M1100.9,889.33h0M1102.59,889.27h0M1104.27,889.58h0M1105.96,889.61h0M1107.65,889.04h0M1109.34,889h0M1111.02,889.36h0M1112.71,889.45h0M1114.4,889.34h0M1116.09,888.99h0M1117.77,888.94h0M1119.46,889.39h0M1121.15,889.18h0M1122.84,889.29h0M1124.52,889.84h0M1126.21,888.86h0M1127.9,889.67h0M1129.59,889.71h0M1131.27,888.9h0M1132.96,889.45h0M1134.65,888.96h0M1136.34,888.99h0M1138.02,889.05h0M1139.71,889.41h0M1141.4,888.73h0M1143.09,889.23h0M1144.77,889.09h0M1146.46,889.56h0M1148.15,889.51h0M1149.84,889.61h0M1151.52,889.77h0M1153.21,889.23h0M1154.9,888.65h0M1156.59,889.72h0M1158.27,888.69h0M1159.96,889.69h0M1161.65,889.52h0M1163.34,888.79h0M1165.02,888.99h0M1166.71,889.22h0M1168.4,889.03h0M1170.09,889.44h0M1171.77,888.55h0M1173.46,889.15h0M1175.15,888.63h0M1176.84,888.98h0M1178.52,889.38h0M1180.21,889.45h0M1181.9,888.61h0M1183.59,889.29h0M1185.27,888.52h0M1186.96,889.43h0M1188.65,888.88h0M1190.34,888.65h0M1192.02,889.14h0M1193.71,888.44h0M1195.4,889.41h0M1197.09,889.52h0M1198.77,889.57h0M1200.46,888.85h0M1202.15,888.7h0M1203.84,889.52h0M1205.52,889.5h0M1207.21,889.51h0M1208.9,889.5h0M1210.59,889.17h0M1212.27,888.4h0M1213.96,889.29h0M1215.65,889.53h0M1217.34,888.64h0M1219.02,888.7h0M1220.71,888.72h0M1222.4,889.32h0M1224.09,889.12h0M1225.77,888.43h0M1227.46,889.02h0M1229.15,888.76h0M1230.84,889.28h0M1232.52,889.08h0M1234.21,888.75h0M1235.9,888.53h0M1237.59,888.41h0M1239.27,889.17h0M1240.96,889.05h0M1242.65,888.64h0M1244.34,889.3h0M1246.02,888.36h0M1247.71,889.28h0M1249.4,888.47h0M1251.09,889.06h0M1252.77,888.54h0M1254.46,888.33h0M1256.15,888.54h0M1257.84,889.05h0M1259.52,888.94h0M1261.21,888.97h0M1262.9,888.4h0M1264.59,889.01h0M1266.27,888.07h0M1267.96,888.13h0M1269.65,888.94h0M1271.34,888.38h0M1273.02,888.53h0M1274.71,888.25h0M1276.4,887.7h0M1278.09,887.65h0M1279.77,888h0M1281.46,887.56h0M1283.15,887.7h0M1284.84,887.63h0M1286.52,886.86h0M1288.21,886.91h0M1289.9,886.07h0M1291.59,885.98h0M1293.27,884.72h0M1294.96,884.56h0M1296.65,883.25h0M1298.34,882.67h0M1300.02,881.73h0M1301.71,880.55h0M1303.4,878.58h0M1305.09,876.82h0M1306.77,875.26h0M1308.46,874.99h0M1310.15,872.82h0M1311.84,872.32h0M1313.52,870.6h0M1315.21,869.26h0M1316.9,868.55h0M1318.59,866.73h0M1320.27,864.86h0M1321.96,864.38h0M1323.65,862h0M1325.34,860.78h0M1327.02,859.1h0M1328.71,856.67h0M1330.4,855.25h0" stroke="#082208" stroke-width="3.7" stroke-linecap="round"/>
<path d="M1060.4,890.44h0M1062.09,890.33h0M1063.78,889.57h0M1065.46,889.82h0M1067.15,889.95h0M1068.84,889.85h0M1070.53,889.98h0M1072.21,889.51h0M1073.9,890.22h0M1075.59,889.59h0M1077.28,889.92h0M1078.96,890.12h0M1080.65,889.44h0M1082.34,890.01h0M1084.03,890.11h0M1085.71,889.39h0M1087.4,889.88h0M1089.09,889.83h0M1090.78,890.3h0M1092.46,890.1h0M1094.15,889.59h0M1095.84,889.92h0M1097.52,889.57h0M1099.21,889.33h0M1100.9,889.33h0M1102.59,889.27h0M1104.27,889.58h0M1105.96,889.61h0M1107.65,889.04h0M1109.34,889h0M1111.02,889.36h0M1112.71,889.45h0M1114.4,889.34h0M1116.09,888.99h0M1117.77,888.94h0M1119.46,889.39h0M1121.15,889.18h0M1122.84,889.29h0M1124.52,889.84h0M1126.21,888.86h0M1127.9,889.67h0M1129.59,889.71h0M1131.27,888.9h0M1132.96,889.45h0M1134.65,888.96h0M1136.34,888.99h0M1138.02,889.05h0M1139.71,889.41h0M1141.4,888.73h0M1143.09,889.23h0M1144.77,889.09h0M1146.46,889.56h0M1148.15,889.51h0M1149.84,889.61h0M1151.52,889.77h0M1153.21,889.23h0M1154.9,888.65h0M1156.59,889.72h0M1158.27,888.69h0M1159.96,889.69h0M1161.65,889.52h0M1163.34,888.79h0M1165.02,888.99h0M1166.71,889.22h0M1168.4,889.03h0M1170.09,889.44h0M1171.77,888.55h0M1173.46,889.15h0M1175.15,888.63h0M1176.84,888.98h0M1178.52,889.38h0M1180.21,889.45h0M1181.9,888.61h0M1183.59,889.29h0M1185.27,888.52h0M1186.96,889.43h0M1188.65,888.88h0M1190.34,888.65h0M1192.02,889.14h0M1193.71,888.44h0M1195.4,889.41h0M1197.09,889.52h0M1198.77,889.57h0M1200.46,888.85h0M1202.15,888.7h0M1203.84,889.52h0M1205.52,889.5h0M1207.21,889.51h0M1208.9,889.5h0M1210.59,889.17h0M1212.27,888.4h0M1213.96,889.29h0M1215.65,889.53h0M1217.34,888.64h0M1219.02,888.7h0M1220.71,888.72h0M1222.4,889.32h0M1224.09,889.12h0M1225.77,888.43h0M1227.46,889.02h0M1229.15,888.76h0M1230.84,889.28h0M1232.52,889.08h0M1234.21,888.75h0M1235.9,888.53h0M1237.59,888.41h0M1239.27,889.17h0M1240.96,889.05h0M1242.65,888.64h0M1244.34,889.3h0M1246.02,888.36h0M1247.71,889.28h0M1249.4,888.47h0M1251.09,889.06h0M1252.77,888.54h0M1254.46,888.33h0M1256.15,888.54h0M1257.84,889.05h0M1259.52,888.94h0M1261.21,888.97h0M1262.9,888.4h0M1264.59,889.01h0M1266.27,888.07h0M1267.96,888.13h0M1269.65,888.94h0M1271.34,888.38h0M1273.02,888.53h0M1274.71,888.25h0M1276.4,887.7h0M1278.09,887.65h0M1279.77,888h0M1281.46,887.56h0M1283.15,887.7h0M1284.84,887.63h0M1286.52,886.86h0M1288.21,886.91h0M1289.9,886.07h0M1291.59,885.98h0M1293.27,884.72h0M1294.96,884.56h0M1296.65,883.25h0M1298.34,882.67h0M1300.02,881.73h0M1301.71,880.55h0M1303.4,878.58h0M1305.09,876.82h0M1306.77,875.26h0M1308.46,874.99h0M1310.15,872.82h0M1311.84,872.32h0M1313.52,870.6h0M1315.21,869.26h0M1316.9,868.55h0M1318.59,866.73h0M1320.27,864.86h0M1321.96,864.38h0M1323.65,862h0M1325.34,860.78h0M1327.02,859.1h0M1328.71,856.67h0M1330.4,855.25h0" stroke="#fff" stroke-width="1.2" stroke-linecap="round" stroke-opacity="0.7"/>
</g>
<rect x="1047.3" y="740.5" width="297.2" height="227.5" fill="none" stroke="#222" stroke-width="1.6"/>
<line x1="1060.4" y1="968" x2="1060.4" y2="963" stroke="#2a2a2a" stroke-width="1.1" />
<line x1="1060.4" y1="740.5" x2="1060.4" y2="745.5" stroke="#2a2a2a" stroke-width="1.1" />
<line x1="1094.15" y1="968" x2="1094.15" y2="965" stroke="#2a2a2a" stroke-width="1.1" />
<line x1="1094.15" y1="740.5" x2="1094.15" y2="743.5" stroke="#2a2a2a" stroke-width="1.1" />
<line x1="1127.9" y1="968" x2="1127.9" y2="963" stroke="#2a2a2a" stroke-width="1.1" />
<line x1="1127.9" y1="740.5" x2="1127.9" y2="745.5" stroke="#2a2a2a" stroke-width="1.1" />
<line x1="1161.65" y1="968" x2="1161.65" y2="965" stroke="#2a2a2a" stroke-width="1.1" />
<line x1="1161.65" y1="740.5" x2="1161.65" y2="743.5" stroke="#2a2a2a" stroke-width="1.1" />
<line x1="1195.4" y1="968" x2="1195.4" y2="963" stroke="#2a2a2a" stroke-width="1.1" />
<line x1="1195.4" y1="740.5" x2="1195.4" y2="745.5" stroke="#2a2a2a" stroke-width="1.1" />
<line x1="1229.15" y1="968" x2="1229.15" y2="965" stroke="#2a2a2a" stroke-width="1.1" />
<line x1="1229.15" y1="740.5" x2="1229.15" y2="743.5" stroke="#2a2a2a" stroke-width="1.1" />
<line x1="1262.9" y1="968" x2="1262.9" y2="963" stroke="#2a2a2a" stroke-width="1.1" />
<line x1="1262.9" y1="740.5" x2="1262.9" y2="745.5" stroke="#2a2a2a" stroke-width="1.1" />
<line x1="1296.65" y1="968" x2="1296.65" y2="965" stroke="#2a2a2a" stroke-width="1.1" />
<line x1="1296.65" y1="740.5" x2="1296.65" y2="743.5" stroke="#2a2a2a" stroke-width="1.1" />
<line x1="1330.4" y1="968" x2="1330.4" y2="963" stroke="#2a2a2a" stroke-width="1.1" />
<line x1="1330.4" y1="740.5" x2="1330.4" y2="745.5" stroke="#2a2a2a" stroke-width="1.1" />
<line x1="1047.3" y1="740.2" x2="1052.3" y2="740.2" stroke="#2a2a2a" stroke-width="1.1" />
<line x1="1344.5" y1="740.2" x2="1339.5" y2="740.2" stroke="#2a2a2a" stroke-width="1.1" />
<line x1="1047.3" y1="777.4" x2="1050.3" y2="777.4" stroke="#2a2a2a" stroke-width="1.1" />
<line x1="1344.5" y1="777.4" x2="1341.5" y2="777.4" stroke="#2a2a2a" stroke-width="1.1" />
<line x1="1047.3" y1="814.6" x2="1052.3" y2="814.6" stroke="#2a2a2a" stroke-width="1.1" />
<line x1="1344.5" y1="814.6" x2="1339.5" y2="814.6" stroke="#2a2a2a" stroke-width="1.1" />
<line x1="1047.3" y1="851.8" x2="1050.3" y2="851.8" stroke="#2a2a2a" stroke-width="1.1" />
<line x1="1344.5" y1="851.8" x2="1341.5" y2="851.8" stroke="#2a2a2a" stroke-width="1.1" />
<line x1="1047.3" y1="889" x2="1052.3" y2="889" stroke="#2a2a2a" stroke-width="1.1" />
<line x1="1344.5" y1="889" x2="1339.5" y2="889" stroke="#2a2a2a" stroke-width="1.1" />
<line x1="1047.3" y1="926.2" x2="1050.3" y2="926.2" stroke="#2a2a2a" stroke-width="1.1" />
<line x1="1344.5" y1="926.2" x2="1341.5" y2="926.2" stroke="#2a2a2a" stroke-width="1.1" />
<line x1="1047.3" y1="963.4" x2="1052.3" y2="963.4" stroke="#2a2a2a" stroke-width="1.1" />
<line x1="1344.5" y1="963.4" x2="1339.5" y2="963.4" stroke="#2a2a2a" stroke-width="1.1" />
<text transform="translate(1059.9 993) scale(0.98 1)" font-size="26" text-anchor="middle" fill="#000" font-weight="normal" stroke="#000" stroke-width="0.3">-2</text>
<text transform="translate(1127.4 993) scale(0.98 1)" font-size="26" text-anchor="middle" fill="#000" font-weight="normal" stroke="#000" stroke-width="0.3">-1</text>
<text transform="translate(1195.4 993) scale(0.98 1)" font-size="26" text-anchor="middle" fill="#000" font-weight="normal" stroke="#000" stroke-width="0.3">0</text>
<text transform="translate(1262.9 993) scale(0.98 1)" font-size="26" text-anchor="middle" fill="#000" font-weight="normal" stroke="#000" stroke-width="0.3">1</text>
<text transform="translate(1330.4 993) scale(0.98 1)" font-size="26" text-anchor="middle" fill="#000" font-weight="normal" stroke="#000" stroke-width="0.3">2</text>
<text transform="translate(1196.5 1018) scale(1.015 1)" font-size="26.5" text-anchor="middle" fill="#000" font-weight="normal" stroke="#000" stroke-width="0.3">Voltage (V)</text>
<text transform="translate(1348.7 750.4) scale(1.03 1)" font-size="26" text-anchor="start" fill="#000" font-weight="normal" stroke="#000" stroke-width="0.3">2x10<tspan font-size="16.5" dy="-12">-6</tspan></text>
<text transform="translate(1349.5 825.3) scale(1.03 1)" font-size="26" text-anchor="start" fill="#000" font-weight="normal" stroke="#000" stroke-width="0.3">1x10<tspan font-size="16.5" dy="-12">-6</tspan></text>
<text transform="translate(1349.5 898.2) scale(1.02 1)" font-size="26" text-anchor="start" fill="#000" font-weight="normal" stroke="#000" stroke-width="0.3">0</text>
<text transform="translate(1348.7 976) scale(1.01 1)" font-size="26" text-anchor="start" fill="#000" font-weight="normal" stroke="#000" stroke-width="0.3">-<tspan dx="0.5">1x10</tspan><tspan font-size="16.5" dy="-12">-6</tspan></text>
<text transform="translate(1458 965.3) rotate(-90) scale(0.989 1)" font-size="26.5" text-anchor="start" fill="#000" font-weight="normal" stroke="#000" stroke-width="0.3">Photocurrent (A)</text>
<rect x="1069.8000000000002" y="752.1" width="5.2" height="5.2" fill="#22ee22"/>
<text transform="translate(1093 761.3)" font-size="19.5" text-anchor="start" fill="#1c1c1c" font-weight="normal" >ND 0</text>
<circle cx="1171.6" cy="753.7" r="1.9" fill="none" stroke="#3d9a3d" stroke-width="1.1"/>
<text transform="translate(1192.5 760)" font-size="19.5" text-anchor="start" fill="#1c1c1c" font-weight="normal" >ND 1.0</text>
<circle cx="1072.4" cy="777.67" r="2.7" fill="#1be01b"/>
<text transform="translate(1093 784.27)" font-size="19.5" text-anchor="start" fill="#1c1c1c" font-weight="normal" >ND 0.1</text>
<circle cx="1171.6" cy="776.67" r="1.9" fill="none" stroke="#7ab87a" stroke-width="1.1"/>
<text transform="translate(1192.5 782.97)" font-size="19.5" text-anchor="start" fill="#1c1c1c" font-weight="normal" >ND 1.5</text>
<polygon points="1072.4,797.84 1069.4,803.04 1075.4,803.04" fill="#16d216"/>
<text transform="translate(1093 807.24)" font-size="19.5" text-anchor="start" fill="#1c1c1c" font-weight="normal" >ND 0.2</text>
<polygon points="1171.6,797.34 1169.1999999999998,801.54 1174.0,801.54" fill="none" stroke="#2f6f2f" stroke-width="1.1"/>
<text transform="translate(1192.5 805.94)" font-size="19.5" text-anchor="start" fill="#1c1c1c" font-weight="normal" >ND 2.0</text>
<polygon points="1072.4,826.41 1069.4,821.21 1075.4,821.21" fill="#12c412"/>
<text transform="translate(1093 830.21)" font-size="19.5" text-anchor="start" fill="#1c1c1c" font-weight="normal" >ND 0.3</text>
<rect x="1169.8" y="820.81" width="3.6" height="3.6" fill="none" stroke="#1f4f1f" stroke-width="1.1"/>
<text transform="translate(1192.5 828.91)" font-size="19.5" text-anchor="start" fill="#1c1c1c" font-weight="normal" >ND 2.5</text>
<polygon points="1072.4,843.58 1069.4,846.58 1072.4,849.58 1075.4,846.58" fill="#0eb40e"/>
<text transform="translate(1093 853.18)" font-size="19.5" text-anchor="start" fill="#1c1c1c" font-weight="normal" >ND 0.4</text>
<circle cx="1171.6" cy="845.58" r="1.9" fill="none" stroke="#1a3f1a" stroke-width="1.1"/>
<text transform="translate(1192.5 851.88)" font-size="19.5" text-anchor="start" fill="#1c1c1c" font-weight="normal" >ND 3.0</text>
<polygon points="1075.4,869.55 1070.0,866.55 1070.0,872.55" fill="#0aa40a"/>
<text transform="translate(1093 876.15)" font-size="19.5" text-anchor="start" fill="#1c1c1c" font-weight="normal" >ND 0.5</text>
<polygon points="1171.6,866.25 1169.1999999999998,870.45 1174.0,870.45" fill="none" stroke="#14301a" stroke-width="1.1"/>
<text transform="translate(1192.5 874.85)" font-size="19.5" text-anchor="start" fill="#1c1c1c" font-weight="normal" >ND 3.5</text>
</g>
</svg>
</body></html>
